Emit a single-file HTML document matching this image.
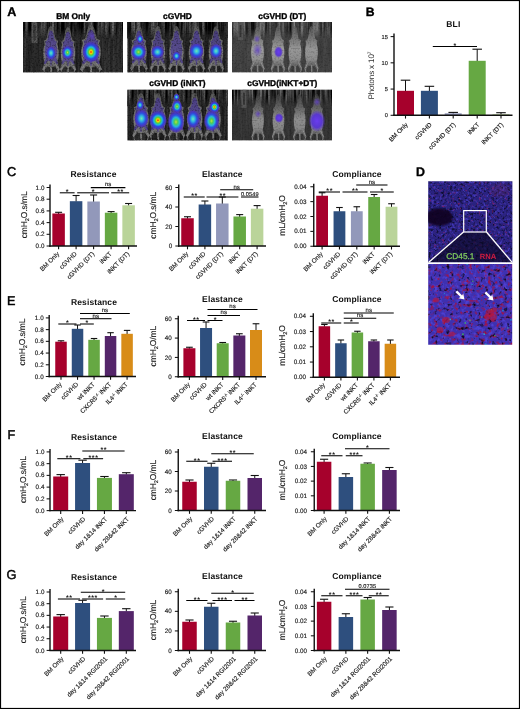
<!DOCTYPE html>
<html><head><meta charset="utf-8"><style>
html,body{margin:0;padding:0;background:#fff;}
text.s{stroke:#1a1a1a;stroke-width:0.15px;}
text.b{stroke:#000;stroke-width:0.35px;}
text.r{stroke:#000;stroke-width:0.45px;}
svg text{text-rendering:geometricPrecision;}
body{width:520px;height:709px;overflow:hidden;position:relative;-webkit-font-smoothing:antialiased;font-family:"Liberation Sans", sans-serif;}
</style></head><body>
<svg width="520" height="709" viewBox="0 0 520 709" style="position:absolute;left:0;top:0;will-change:transform;font-family:&quot;Liberation Sans&quot;, sans-serif">
<defs>
<filter id="blur1" x="-50%" y="-50%" width="200%" height="200%"><feGaussianBlur stdDeviation="1.2"/></filter>
<filter id="blur05" x="-50%" y="-50%" width="200%" height="200%"><feGaussianBlur stdDeviation="0.5"/></filter>
<filter id="blurM" x="-50%" y="-50%" width="200%" height="200%"><feGaussianBlur stdDeviation="0.7"/></filter>
<filter id="bgDark" x="0" y="0" width="100%" height="100%" color-interpolation-filters="sRGB"><feTurbulence type="fractalNoise" baseFrequency="0.45 0.025" numOctaves="2" seed="4"/><feColorMatrix type="matrix" values="0.55 0 0 0 -0.1  0.55 0 0 0 -0.1  0.55 0 0 0 -0.1  0 0 0 0 1"/></filter>
<filter id="bgDark2" x="0" y="0" width="100%" height="100%" color-interpolation-filters="sRGB"><feTurbulence type="fractalNoise" baseFrequency="0.45 0.025" numOctaves="2" seed="9"/><feColorMatrix type="matrix" values="0.55 0 0 0 -0.12  0.55 0 0 0 -0.12  0.55 0 0 0 -0.12  0 0 0 0 1"/></filter>
<filter id="bgGray" x="0" y="0" width="100%" height="100%" color-interpolation-filters="sRGB"><feTurbulence type="fractalNoise" baseFrequency="0.4 0.03" numOctaves="2" seed="5"/><feColorMatrix type="matrix" values="0.5 0 0 0 0.03  0.5 0 0 0 0.03  0.5 0 0 0 0.03  0 0 0 0 1"/></filter>
<filter id="bgGray2" x="0" y="0" width="100%" height="100%" color-interpolation-filters="sRGB"><feTurbulence type="fractalNoise" baseFrequency="0.4 0.03" numOctaves="2" seed="6"/><feColorMatrix type="matrix" values="0.5 0 0 0 -0.03  0.5 0 0 0 -0.03  0.5 0 0 0 -0.03  0 0 0 0 1"/></filter>
<filter id="topbgDark" x="0" y="0" width="100%" height="100%" color-interpolation-filters="sRGB"><feTurbulence type="fractalNoise" baseFrequency="0.35 0.02" numOctaves="2" seed="4"/><feColorMatrix type="matrix" values="0.8 0 0 0 -0.24  0.8 0 0 0 -0.24  0.8 0 0 0 -0.24  0 0 0 0 1"/></filter>
<filter id="topbgDark2" x="0" y="0" width="100%" height="100%" color-interpolation-filters="sRGB"><feTurbulence type="fractalNoise" baseFrequency="0.35 0.02" numOctaves="2" seed="9"/><feColorMatrix type="matrix" values="0.8 0 0 0 -0.24  0.8 0 0 0 -0.24  0.8 0 0 0 -0.24  0 0 0 0 1"/></filter>
<filter id="topbgGray" x="0" y="0" width="100%" height="100%" color-interpolation-filters="sRGB"><feTurbulence type="fractalNoise" baseFrequency="0.35 0.02" numOctaves="2" seed="5"/><feColorMatrix type="matrix" values="0.8 0 0 0 -0.13  0.8 0 0 0 -0.13  0.8 0 0 0 -0.13  0 0 0 0 1"/></filter>
<filter id="topbgGray2" x="0" y="0" width="100%" height="100%" color-interpolation-filters="sRGB"><feTurbulence type="fractalNoise" baseFrequency="0.35 0.02" numOctaves="2" seed="6"/><feColorMatrix type="matrix" values="1.0 0 0 0 -0.32  1.0 0 0 0 -0.32  1.0 0 0 0 -0.32  0 0 0 0 1"/></filter>
<linearGradient id="grayBody" x1="0" y1="0" x2="0" y2="1"><stop offset="0" stop-color="#5a5a5a"/><stop offset="0.25" stop-color="#808080"/><stop offset="0.5" stop-color="#acacac"/><stop offset="0.72" stop-color="#a0a0a0"/><stop offset="0.85" stop-color="#707070"/><stop offset="1" stop-color="#808080"/></linearGradient>
<linearGradient id="grayBody2" x1="0" y1="0" x2="0" y2="1"><stop offset="0" stop-color="#404040"/><stop offset="0.3" stop-color="#707070"/><stop offset="0.55" stop-color="#a4a4a4"/><stop offset="0.75" stop-color="#9a9a9a"/><stop offset="0.88" stop-color="#686868"/><stop offset="1" stop-color="#7a7a7a"/></linearGradient>
<linearGradient id="furBody" x1="0" y1="0" x2="0" y2="1"><stop offset="0" stop-color="#5a5a5a"/><stop offset="0.3" stop-color="#7a7a7a"/><stop offset="0.6" stop-color="#8e8e8e"/><stop offset="0.85" stop-color="#7a7a7a"/><stop offset="1" stop-color="#909090"/></linearGradient>
<linearGradient id="fadeDown" x1="0" y1="0" x2="0" y2="1"><stop offset="0" stop-color="currentColor" stop-opacity="0"/><stop offset="1" stop-color="currentColor" stop-opacity="0.9"/></linearGradient>
<filter id="grain" x="0" y="0" width="100%" height="100%" color-interpolation-filters="sRGB"><feTurbulence type="fractalNoise" baseFrequency="0.6" numOctaves="1" seed="2"/><feColorMatrix type="matrix" values="0 0 0 0 0  0 0 0 0 0  0 0 0 0 0  0 3 0 0 -1.45"/></filter>
<radialGradient id="hotR"><stop offset="0" stop-color="#f01800"/><stop offset="0.14" stop-color="#ffd000"/><stop offset="0.3" stop-color="#50d040"/><stop offset="0.46" stop-color="#20b8e0"/><stop offset="0.64" stop-color="#2848e0"/><stop offset="0.84" stop-color="#4a30c8" stop-opacity="0.75"/><stop offset="1" stop-color="#4a30c8" stop-opacity="0"/></radialGradient>
<radialGradient id="hotG"><stop offset="0" stop-color="#c0e040"/><stop offset="0.2" stop-color="#50d050"/><stop offset="0.42" stop-color="#28b8d8"/><stop offset="0.62" stop-color="#2c50e0"/><stop offset="0.84" stop-color="#4a30c8" stop-opacity="0.75"/><stop offset="1" stop-color="#4a30c8" stop-opacity="0"/></radialGradient>
<radialGradient id="hotC"><stop offset="0" stop-color="#70e8b0"/><stop offset="0.28" stop-color="#30b8e0"/><stop offset="0.58" stop-color="#2c50e0"/><stop offset="0.84" stop-color="#4a30c8" stop-opacity="0.75"/><stop offset="1" stop-color="#4a30c8" stop-opacity="0"/></radialGradient>
<radialGradient id="hotP"><stop offset="0" stop-color="#6a3cf0"/><stop offset="0.6" stop-color="#5530d8" stop-opacity="0.9"/><stop offset="1" stop-color="#5530d8" stop-opacity="0"/></radialGradient>
<radialGradient id="hotPf"><stop offset="0" stop-color="#6040c8" stop-opacity="0.8"/><stop offset="1" stop-color="#6040c8" stop-opacity="0"/></radialGradient>
</defs>
<rect x="0" y="0" width="520" height="709" fill="#fff" />
<text x="7.2" y="16.2" font-size="12.6" text-anchor="start" font-weight="bold" fill="#000" class="b">A</text>
<text x="73.2" y="18.5" font-size="8.4" text-anchor="middle" font-weight="bold" fill="#000" class="b">BM Only</text>
<text x="177.5" y="18.5" font-size="8.4" text-anchor="middle" font-weight="bold" fill="#000" class="b">cGVHD</text>
<text x="282.3" y="18.5" font-size="8.4" text-anchor="middle" font-weight="bold" fill="#000" class="b">cGVHD (DT)</text>
<text x="177.5" y="86" font-size="8.4" text-anchor="middle" font-weight="bold" fill="#000" class="b">cGVHD (iNKT)</text>
<text x="282.3" y="86" font-size="8.4" text-anchor="middle" font-weight="bold" fill="#000" class="b">cGVHD(iNKT+DT)</text>
<clipPath id="clipA1"><rect x="23" y="22" width="100" height="50.6"/></clipPath>
<g clip-path="url(#clipA1)">
<rect x="23" y="22" width="100" height="50.6" fill="#2a2a2a" />
<rect x="23" y="22" width="100" height="50.6" filter="url(#bgDark)" opacity="0.35"/>
<linearGradient id="fd1" x1="0" y1="0" x2="0" y2="1"><stop offset="0" stop-color="#2a2a2a" stop-opacity="0"/><stop offset="1" stop-color="#2a2a2a" stop-opacity="1"/></linearGradient>
<rect x="23" y="22" width="100" height="16" filter="url(#topbgDark)"/>
<rect x="23" y="28.5" width="100" height="10" fill="url(#fd1)"/>
<g filter="url(#blur05)"><rect x="31.5" y="22.0" width="6.0" height="21.0" fill="#555"/><rect x="33.3" y="25.0" width="2.4" height="15.0" fill="#383838"/></g>
<g filter="url(#blurM)"><path d="M0,0.02 C0.12,0.02 0.2,0.1 0.22,0.2 L0.3,0.3 L0.46,0.33 L0.4,0.4 C0.52,0.5 0.52,0.66 0.4,0.78 L0.56,0.93 L0.44,0.96 L0.24,0.86 L0.06,0.88 L0.04,1.0 L-0.04,1.0 L-0.06,0.88 L-0.24,0.86 L-0.44,0.96 L-0.56,0.93 L-0.4,0.78 C-0.52,0.66 -0.52,0.5 -0.4,0.4 L-0.46,0.33 L-0.3,0.3 L-0.22,0.2 C-0.2,0.1 -0.12,0.02 0,0.02 Z" transform="translate(51.0,25.0) scale(15.75,48.00)" fill="url(#furBody)" fill-opacity="0.8"/></g>
<g filter="url(#blurM)"><path d="M0,0.02 C0.12,0.02 0.2,0.1 0.22,0.2 L0.3,0.3 L0.46,0.33 L0.4,0.4 C0.52,0.5 0.52,0.66 0.4,0.78 L0.56,0.93 L0.44,0.96 L0.24,0.86 L0.06,0.88 L0.04,1.0 L-0.04,1.0 L-0.06,0.88 L-0.24,0.86 L-0.44,0.96 L-0.56,0.93 L-0.4,0.78 C-0.52,0.66 -0.52,0.5 -0.4,0.4 L-0.46,0.33 L-0.3,0.3 L-0.22,0.2 C-0.2,0.1 -0.12,0.02 0,0.02 Z" transform="translate(51.0,29.8) scale(12.75,36.00)" fill="#3f2c9c" fill-opacity="0.58"/></g>
<g filter="url(#blurM)"><path d="M0,0.02 C0.12,0.02 0.2,0.1 0.22,0.2 L0.3,0.3 L0.46,0.33 L0.4,0.4 C0.52,0.5 0.52,0.66 0.4,0.78 L0.56,0.93 L0.44,0.96 L0.24,0.86 L0.06,0.88 L0.04,1.0 L-0.04,1.0 L-0.06,0.88 L-0.24,0.86 L-0.44,0.96 L-0.56,0.93 L-0.4,0.78 C-0.52,0.66 -0.52,0.5 -0.4,0.4 L-0.46,0.33 L-0.3,0.3 L-0.22,0.2 C-0.2,0.1 -0.12,0.02 0,0.02 Z" transform="translate(68.0,26.0) scale(14.70,47.00)" fill="url(#furBody)" fill-opacity="0.8"/></g>
<g filter="url(#blurM)"><path d="M0,0.02 C0.12,0.02 0.2,0.1 0.22,0.2 L0.3,0.3 L0.46,0.33 L0.4,0.4 C0.52,0.5 0.52,0.66 0.4,0.78 L0.56,0.93 L0.44,0.96 L0.24,0.86 L0.06,0.88 L0.04,1.0 L-0.04,1.0 L-0.06,0.88 L-0.24,0.86 L-0.44,0.96 L-0.56,0.93 L-0.4,0.78 C-0.52,0.66 -0.52,0.5 -0.4,0.4 L-0.46,0.33 L-0.3,0.3 L-0.22,0.2 C-0.2,0.1 -0.12,0.02 0,0.02 Z" transform="translate(68.0,30.7) scale(11.90,35.25)" fill="#3f2c9c" fill-opacity="0.58"/></g>
<g filter="url(#blurM)"><path d="M0,0.02 C0.12,0.02 0.2,0.1 0.22,0.2 L0.3,0.3 L0.46,0.33 L0.4,0.4 C0.52,0.5 0.52,0.66 0.4,0.78 L0.56,0.93 L0.44,0.96 L0.24,0.86 L0.06,0.88 L0.04,1.0 L-0.04,1.0 L-0.06,0.88 L-0.24,0.86 L-0.44,0.96 L-0.56,0.93 L-0.4,0.78 C-0.52,0.66 -0.52,0.5 -0.4,0.4 L-0.46,0.33 L-0.3,0.3 L-0.22,0.2 C-0.2,0.1 -0.12,0.02 0,0.02 Z" transform="translate(91.0,24.0) scale(19.95,49.00)" fill="url(#furBody)" fill-opacity="0.8"/></g>
<g filter="url(#blurM)"><path d="M0,0.02 C0.12,0.02 0.2,0.1 0.22,0.2 L0.3,0.3 L0.46,0.33 L0.4,0.4 C0.52,0.5 0.52,0.66 0.4,0.78 L0.56,0.93 L0.44,0.96 L0.24,0.86 L0.06,0.88 L0.04,1.0 L-0.04,1.0 L-0.06,0.88 L-0.24,0.86 L-0.44,0.96 L-0.56,0.93 L-0.4,0.78 C-0.52,0.66 -0.52,0.5 -0.4,0.4 L-0.46,0.33 L-0.3,0.3 L-0.22,0.2 C-0.2,0.1 -0.12,0.02 0,0.02 Z" transform="translate(91.0,28.9) scale(16.15,36.75)" fill="#3f2c9c" fill-opacity="0.61"/></g>
<path d="M46.8,63.4 L43.5,69.6 L44.7,72.6" fill="none" stroke="#8a8a8a" stroke-width="1" stroke-opacity="0.75"/>
<path d="M55.2,63.4 L58.5,69.6 L57.3,72.6" fill="none" stroke="#8a8a8a" stroke-width="1" stroke-opacity="0.75"/>
<line x1="51.0" y1="65.8" x2="51.6" y2="72.6" stroke="#8a8a8a" stroke-width="0.9" stroke-opacity="0.7"/>
<path d="M64.1,63.6 L61.0,69.7 L62.1,72.6" fill="none" stroke="#8a8a8a" stroke-width="1" stroke-opacity="0.75"/>
<path d="M71.9,63.6 L75.0,69.7 L73.9,72.6" fill="none" stroke="#8a8a8a" stroke-width="1" stroke-opacity="0.75"/>
<line x1="68.0" y1="65.9" x2="68.6" y2="72.6" stroke="#8a8a8a" stroke-width="0.9" stroke-opacity="0.7"/>
<path d="M85.7,63.2 L81.5,69.6 L83.0,72.6" fill="none" stroke="#8a8a8a" stroke-width="1" stroke-opacity="0.75"/>
<path d="M96.3,63.2 L100.5,69.6 L99.0,72.6" fill="none" stroke="#8a8a8a" stroke-width="1" stroke-opacity="0.75"/>
<line x1="91.0" y1="65.7" x2="91.6" y2="72.6" stroke="#8a8a8a" stroke-width="0.9" stroke-opacity="0.7"/>
<rect x="23" y="22" width="100" height="50.6" filter="url(#grain)" opacity="0.45"/>
<ellipse cx="51.0" cy="53.0" rx="4.9" ry="6.8" fill="url(#hotC)"/>
<ellipse cx="67.5" cy="52.5" rx="5.5" ry="6.8" fill="url(#hotG)"/>
<ellipse cx="91.0" cy="52.0" rx="8.8" ry="10.7" fill="url(#hotR)"/>
<ellipse cx="92.0" cy="36.0" rx="3.0" ry="4.0" fill="url(#hotPf)"/>
</g>
<clipPath id="clipA2"><rect x="127.3" y="22" width="100.5" height="50.6"/></clipPath>
<g clip-path="url(#clipA2)">
<rect x="127.3" y="22" width="100.5" height="50.6" fill="#262626" />
<rect x="127.3" y="22" width="100.5" height="50.6" filter="url(#bgDark2)" opacity="0.35"/>
<linearGradient id="fd2" x1="0" y1="0" x2="0" y2="1"><stop offset="0" stop-color="#262626" stop-opacity="0"/><stop offset="1" stop-color="#262626" stop-opacity="1"/></linearGradient>
<rect x="127.3" y="22" width="100.5" height="16" filter="url(#topbgDark2)"/>
<rect x="127.3" y="28.5" width="100.5" height="10" fill="url(#fd2)"/>
<g filter="url(#blurM)"><path d="M0,0.02 C0.12,0.02 0.2,0.1 0.22,0.2 L0.3,0.3 L0.46,0.33 L0.4,0.4 C0.52,0.5 0.52,0.66 0.4,0.78 L0.56,0.93 L0.44,0.96 L0.24,0.86 L0.06,0.88 L0.04,1.0 L-0.04,1.0 L-0.06,0.88 L-0.24,0.86 L-0.44,0.96 L-0.56,0.93 L-0.4,0.78 C-0.52,0.66 -0.52,0.5 -0.4,0.4 L-0.46,0.33 L-0.3,0.3 L-0.22,0.2 C-0.2,0.1 -0.12,0.02 0,0.02 Z" transform="translate(139.0,25.0) scale(15.75,47.00)" fill="url(#furBody)" fill-opacity="0.8"/></g>
<g filter="url(#blurM)"><path d="M0,0.02 C0.12,0.02 0.2,0.1 0.22,0.2 L0.3,0.3 L0.46,0.33 L0.4,0.4 C0.52,0.5 0.52,0.66 0.4,0.78 L0.56,0.93 L0.44,0.96 L0.24,0.86 L0.06,0.88 L0.04,1.0 L-0.04,1.0 L-0.06,0.88 L-0.24,0.86 L-0.44,0.96 L-0.56,0.93 L-0.4,0.78 C-0.52,0.66 -0.52,0.5 -0.4,0.4 L-0.46,0.33 L-0.3,0.3 L-0.22,0.2 C-0.2,0.1 -0.12,0.02 0,0.02 Z" transform="translate(139.0,29.7) scale(12.75,35.25)" fill="#3f2c9c" fill-opacity="0.61"/></g>
<g filter="url(#blurM)"><path d="M0,0.02 C0.12,0.02 0.2,0.1 0.22,0.2 L0.3,0.3 L0.46,0.33 L0.4,0.4 C0.52,0.5 0.52,0.66 0.4,0.78 L0.56,0.93 L0.44,0.96 L0.24,0.86 L0.06,0.88 L0.04,1.0 L-0.04,1.0 L-0.06,0.88 L-0.24,0.86 L-0.44,0.96 L-0.56,0.93 L-0.4,0.78 C-0.52,0.66 -0.52,0.5 -0.4,0.4 L-0.46,0.33 L-0.3,0.3 L-0.22,0.2 C-0.2,0.1 -0.12,0.02 0,0.02 Z" transform="translate(158.0,25.0) scale(14.70,47.00)" fill="url(#furBody)" fill-opacity="0.8"/></g>
<g filter="url(#blurM)"><path d="M0,0.02 C0.12,0.02 0.2,0.1 0.22,0.2 L0.3,0.3 L0.46,0.33 L0.4,0.4 C0.52,0.5 0.52,0.66 0.4,0.78 L0.56,0.93 L0.44,0.96 L0.24,0.86 L0.06,0.88 L0.04,1.0 L-0.04,1.0 L-0.06,0.88 L-0.24,0.86 L-0.44,0.96 L-0.56,0.93 L-0.4,0.78 C-0.52,0.66 -0.52,0.5 -0.4,0.4 L-0.46,0.33 L-0.3,0.3 L-0.22,0.2 C-0.2,0.1 -0.12,0.02 0,0.02 Z" transform="translate(158.0,29.7) scale(11.90,35.25)" fill="#38248c" fill-opacity="0.58"/></g>
<g filter="url(#blurM)"><path d="M0,0.02 C0.12,0.02 0.2,0.1 0.22,0.2 L0.3,0.3 L0.46,0.33 L0.4,0.4 C0.52,0.5 0.52,0.66 0.4,0.78 L0.56,0.93 L0.44,0.96 L0.24,0.86 L0.06,0.88 L0.04,1.0 L-0.04,1.0 L-0.06,0.88 L-0.24,0.86 L-0.44,0.96 L-0.56,0.93 L-0.4,0.78 C-0.52,0.66 -0.52,0.5 -0.4,0.4 L-0.46,0.33 L-0.3,0.3 L-0.22,0.2 C-0.2,0.1 -0.12,0.02 0,0.02 Z" transform="translate(176.5,25.0) scale(14.70,47.00)" fill="url(#furBody)" fill-opacity="0.8"/></g>
<g filter="url(#blurM)"><path d="M0,0.02 C0.12,0.02 0.2,0.1 0.22,0.2 L0.3,0.3 L0.46,0.33 L0.4,0.4 C0.52,0.5 0.52,0.66 0.4,0.78 L0.56,0.93 L0.44,0.96 L0.24,0.86 L0.06,0.88 L0.04,1.0 L-0.04,1.0 L-0.06,0.88 L-0.24,0.86 L-0.44,0.96 L-0.56,0.93 L-0.4,0.78 C-0.52,0.66 -0.52,0.5 -0.4,0.4 L-0.46,0.33 L-0.3,0.3 L-0.22,0.2 C-0.2,0.1 -0.12,0.02 0,0.02 Z" transform="translate(176.5,29.7) scale(11.90,35.25)" fill="#3f2c9c" fill-opacity="0.58"/></g>
<g filter="url(#blurM)"><path d="M0,0.02 C0.12,0.02 0.2,0.1 0.22,0.2 L0.3,0.3 L0.46,0.33 L0.4,0.4 C0.52,0.5 0.52,0.66 0.4,0.78 L0.56,0.93 L0.44,0.96 L0.24,0.86 L0.06,0.88 L0.04,1.0 L-0.04,1.0 L-0.06,0.88 L-0.24,0.86 L-0.44,0.96 L-0.56,0.93 L-0.4,0.78 C-0.52,0.66 -0.52,0.5 -0.4,0.4 L-0.46,0.33 L-0.3,0.3 L-0.22,0.2 C-0.2,0.1 -0.12,0.02 0,0.02 Z" transform="translate(196.5,25.0) scale(15.75,47.00)" fill="url(#furBody)" fill-opacity="0.8"/></g>
<g filter="url(#blurM)"><path d="M0,0.02 C0.12,0.02 0.2,0.1 0.22,0.2 L0.3,0.3 L0.46,0.33 L0.4,0.4 C0.52,0.5 0.52,0.66 0.4,0.78 L0.56,0.93 L0.44,0.96 L0.24,0.86 L0.06,0.88 L0.04,1.0 L-0.04,1.0 L-0.06,0.88 L-0.24,0.86 L-0.44,0.96 L-0.56,0.93 L-0.4,0.78 C-0.52,0.66 -0.52,0.5 -0.4,0.4 L-0.46,0.33 L-0.3,0.3 L-0.22,0.2 C-0.2,0.1 -0.12,0.02 0,0.02 Z" transform="translate(196.5,29.7) scale(12.75,35.25)" fill="#3f2c9c" fill-opacity="0.61"/></g>
<g filter="url(#blurM)"><path d="M0,0.02 C0.12,0.02 0.2,0.1 0.22,0.2 L0.3,0.3 L0.46,0.33 L0.4,0.4 C0.52,0.5 0.52,0.66 0.4,0.78 L0.56,0.93 L0.44,0.96 L0.24,0.86 L0.06,0.88 L0.04,1.0 L-0.04,1.0 L-0.06,0.88 L-0.24,0.86 L-0.44,0.96 L-0.56,0.93 L-0.4,0.78 C-0.52,0.66 -0.52,0.5 -0.4,0.4 L-0.46,0.33 L-0.3,0.3 L-0.22,0.2 C-0.2,0.1 -0.12,0.02 0,0.02 Z" transform="translate(216.0,25.0) scale(14.70,47.00)" fill="url(#furBody)" fill-opacity="0.8"/></g>
<g filter="url(#blurM)"><path d="M0,0.02 C0.12,0.02 0.2,0.1 0.22,0.2 L0.3,0.3 L0.46,0.33 L0.4,0.4 C0.52,0.5 0.52,0.66 0.4,0.78 L0.56,0.93 L0.44,0.96 L0.24,0.86 L0.06,0.88 L0.04,1.0 L-0.04,1.0 L-0.06,0.88 L-0.24,0.86 L-0.44,0.96 L-0.56,0.93 L-0.4,0.78 C-0.52,0.66 -0.52,0.5 -0.4,0.4 L-0.46,0.33 L-0.3,0.3 L-0.22,0.2 C-0.2,0.1 -0.12,0.02 0,0.02 Z" transform="translate(216.0,29.7) scale(11.90,35.25)" fill="#38248c" fill-opacity="0.58"/></g>
<path d="M134.8,62.6 L131.5,68.7 L132.7,72.6" fill="none" stroke="#8a8a8a" stroke-width="1" stroke-opacity="0.75"/>
<path d="M143.2,62.6 L146.5,68.7 L145.3,72.6" fill="none" stroke="#8a8a8a" stroke-width="1" stroke-opacity="0.75"/>
<line x1="139.0" y1="64.9" x2="139.6" y2="72.6" stroke="#8a8a8a" stroke-width="0.9" stroke-opacity="0.7"/>
<path d="M154.1,62.6 L151.0,68.7 L152.1,72.6" fill="none" stroke="#8a8a8a" stroke-width="1" stroke-opacity="0.75"/>
<path d="M161.9,62.6 L165.0,68.7 L163.9,72.6" fill="none" stroke="#8a8a8a" stroke-width="1" stroke-opacity="0.75"/>
<line x1="158.0" y1="64.9" x2="158.6" y2="72.6" stroke="#8a8a8a" stroke-width="0.9" stroke-opacity="0.7"/>
<path d="M172.6,62.6 L169.5,68.7 L170.6,72.6" fill="none" stroke="#8a8a8a" stroke-width="1" stroke-opacity="0.75"/>
<path d="M180.4,62.6 L183.5,68.7 L182.4,72.6" fill="none" stroke="#8a8a8a" stroke-width="1" stroke-opacity="0.75"/>
<line x1="176.5" y1="64.9" x2="177.1" y2="72.6" stroke="#8a8a8a" stroke-width="0.9" stroke-opacity="0.7"/>
<path d="M192.3,62.6 L189.0,68.7 L190.2,72.6" fill="none" stroke="#8a8a8a" stroke-width="1" stroke-opacity="0.75"/>
<path d="M200.7,62.6 L204.0,68.7 L202.8,72.6" fill="none" stroke="#8a8a8a" stroke-width="1" stroke-opacity="0.75"/>
<line x1="196.5" y1="64.9" x2="197.1" y2="72.6" stroke="#8a8a8a" stroke-width="0.9" stroke-opacity="0.7"/>
<path d="M212.1,62.6 L209.0,68.7 L210.1,72.6" fill="none" stroke="#8a8a8a" stroke-width="1" stroke-opacity="0.75"/>
<path d="M219.9,62.6 L223.0,68.7 L221.9,72.6" fill="none" stroke="#8a8a8a" stroke-width="1" stroke-opacity="0.75"/>
<line x1="216.0" y1="64.9" x2="216.6" y2="72.6" stroke="#8a8a8a" stroke-width="0.9" stroke-opacity="0.7"/>
<rect x="127.3" y="22" width="100.5" height="50.6" filter="url(#grain)" opacity="0.45"/>
<ellipse cx="138.5" cy="52.0" rx="7.8" ry="7.8" fill="url(#hotG)"/>
<ellipse cx="140.0" cy="39.0" rx="3.2" ry="4.2" fill="url(#hotC)"/>
<ellipse cx="157.5" cy="52.0" rx="6.5" ry="6.5" fill="url(#hotC)"/>
<ellipse cx="176.5" cy="56.0" rx="3.9" ry="4.5" fill="url(#hotC)"/>
<ellipse cx="196.5" cy="51.0" rx="7.2" ry="7.8" fill="url(#hotC)"/>
<ellipse cx="216.0" cy="51.0" rx="5.9" ry="7.2" fill="url(#hotC)"/>
</g>
<clipPath id="clipA3"><rect x="232" y="22" width="100" height="50.6"/></clipPath>
<g clip-path="url(#clipA3)">
<rect x="232" y="22" width="100" height="50.6" fill="#424242" />
<rect x="232" y="22" width="100" height="50.6" filter="url(#bgGray)" opacity="0.2"/>
<linearGradient id="fd3" x1="0" y1="0" x2="0" y2="1"><stop offset="0" stop-color="#424242" stop-opacity="0"/><stop offset="1" stop-color="#424242" stop-opacity="1"/></linearGradient>
<rect x="232" y="22" width="100" height="16" filter="url(#topbgGray)"/>
<rect x="232" y="28.5" width="100" height="10" fill="url(#fd3)"/>
<g filter="url(#blur05)"><rect x="238.0" y="22.0" width="5.0" height="18.0" fill="#555"/><rect x="239.5" y="25.0" width="2.0" height="12.0" fill="#383838"/></g>
<g filter="url(#blurM)"><path d="M0,0.02 C0.12,0.02 0.2,0.1 0.22,0.2 L0.3,0.3 L0.46,0.33 L0.4,0.4 C0.52,0.5 0.52,0.66 0.4,0.78 L0.56,0.93 L0.44,0.96 L0.24,0.86 L0.06,0.88 L0.04,1.0 L-0.04,1.0 L-0.06,0.88 L-0.24,0.86 L-0.44,0.96 L-0.56,0.93 L-0.4,0.78 C-0.52,0.66 -0.52,0.5 -0.4,0.4 L-0.46,0.33 L-0.3,0.3 L-0.22,0.2 C-0.2,0.1 -0.12,0.02 0,0.02 Z" transform="translate(257.5,25.0) scale(13.00,47.00)" fill="url(#grayBody)" fill-opacity="0.85"/></g>
<g filter="url(#blurM)"><path d="M0,0.02 C0.12,0.02 0.2,0.1 0.22,0.2 L0.3,0.3 L0.46,0.33 L0.4,0.4 C0.52,0.5 0.52,0.66 0.4,0.78 L0.56,0.93 L0.44,0.96 L0.24,0.86 L0.06,0.88 L0.04,1.0 L-0.04,1.0 L-0.06,0.88 L-0.24,0.86 L-0.44,0.96 L-0.56,0.93 L-0.4,0.78 C-0.52,0.66 -0.52,0.5 -0.4,0.4 L-0.46,0.33 L-0.3,0.3 L-0.22,0.2 C-0.2,0.1 -0.12,0.02 0,0.02 Z" transform="translate(278.0,25.0) scale(13.00,47.00)" fill="url(#grayBody)" fill-opacity="0.85"/></g>
<g filter="url(#blurM)"><path d="M0,0.02 C0.12,0.02 0.2,0.1 0.22,0.2 L0.3,0.3 L0.46,0.33 L0.4,0.4 C0.52,0.5 0.52,0.66 0.4,0.78 L0.56,0.93 L0.44,0.96 L0.24,0.86 L0.06,0.88 L0.04,1.0 L-0.04,1.0 L-0.06,0.88 L-0.24,0.86 L-0.44,0.96 L-0.56,0.93 L-0.4,0.78 C-0.52,0.66 -0.52,0.5 -0.4,0.4 L-0.46,0.33 L-0.3,0.3 L-0.22,0.2 C-0.2,0.1 -0.12,0.02 0,0.02 Z" transform="translate(295.0,25.0) scale(13.00,47.00)" fill="url(#grayBody)" fill-opacity="0.80"/></g>
<g filter="url(#blurM)"><path d="M0,0.02 C0.12,0.02 0.2,0.1 0.22,0.2 L0.3,0.3 L0.46,0.33 L0.4,0.4 C0.52,0.5 0.52,0.66 0.4,0.78 L0.56,0.93 L0.44,0.96 L0.24,0.86 L0.06,0.88 L0.04,1.0 L-0.04,1.0 L-0.06,0.88 L-0.24,0.86 L-0.44,0.96 L-0.56,0.93 L-0.4,0.78 C-0.52,0.66 -0.52,0.5 -0.4,0.4 L-0.46,0.33 L-0.3,0.3 L-0.22,0.2 C-0.2,0.1 -0.12,0.02 0,0.02 Z" transform="translate(311.5,25.0) scale(13.00,47.00)" fill="url(#grayBody)" fill-opacity="0.80"/></g>
<path d="M253.9,62.6 L251.0,68.7 L252.0,72.6" fill="none" stroke="#9a9a9a" stroke-width="1" stroke-opacity="0.75"/>
<path d="M261.1,62.6 L264.0,68.7 L263.0,72.6" fill="none" stroke="#9a9a9a" stroke-width="1" stroke-opacity="0.75"/>
<line x1="257.5" y1="64.9" x2="258.1" y2="72.6" stroke="#9a9a9a" stroke-width="0.9" stroke-opacity="0.7"/>
<path d="M274.4,62.6 L271.5,68.7 L272.5,72.6" fill="none" stroke="#9a9a9a" stroke-width="1" stroke-opacity="0.75"/>
<path d="M281.6,62.6 L284.5,68.7 L283.5,72.6" fill="none" stroke="#9a9a9a" stroke-width="1" stroke-opacity="0.75"/>
<line x1="278.0" y1="64.9" x2="278.6" y2="72.6" stroke="#9a9a9a" stroke-width="0.9" stroke-opacity="0.7"/>
<path d="M291.4,62.6 L288.5,68.7 L289.5,72.6" fill="none" stroke="#9a9a9a" stroke-width="1" stroke-opacity="0.75"/>
<path d="M298.6,62.6 L301.5,68.7 L300.5,72.6" fill="none" stroke="#9a9a9a" stroke-width="1" stroke-opacity="0.75"/>
<line x1="295.0" y1="64.9" x2="295.6" y2="72.6" stroke="#9a9a9a" stroke-width="0.9" stroke-opacity="0.7"/>
<path d="M307.9,62.6 L305.0,68.7 L306.0,72.6" fill="none" stroke="#9a9a9a" stroke-width="1" stroke-opacity="0.75"/>
<path d="M315.1,62.6 L318.0,68.7 L317.0,72.6" fill="none" stroke="#9a9a9a" stroke-width="1" stroke-opacity="0.75"/>
<line x1="311.5" y1="64.9" x2="312.1" y2="72.6" stroke="#9a9a9a" stroke-width="0.9" stroke-opacity="0.7"/>
<rect x="232" y="22" width="100" height="50.6" filter="url(#grain)" opacity="0.22"/>
<ellipse cx="257.0" cy="39.0" rx="3.5" ry="4.0" fill="url(#hotPf)"/>
<ellipse cx="257.5" cy="50.0" rx="5.0" ry="7.0" fill="url(#hotPf)"/>
<ellipse cx="278.5" cy="52.0" rx="4.5" ry="6.0" fill="url(#hotP)"/>
</g>
<clipPath id="clipA4"><rect x="127.3" y="89.8" width="100.5" height="50.8"/></clipPath>
<g clip-path="url(#clipA4)">
<rect x="127.3" y="89.8" width="100.5" height="50.8" fill="#262626" />
<rect x="127.3" y="89.8" width="100.5" height="50.8" filter="url(#bgDark2)" opacity="0.35"/>
<linearGradient id="fd4" x1="0" y1="0" x2="0" y2="1"><stop offset="0" stop-color="#262626" stop-opacity="0"/><stop offset="1" stop-color="#262626" stop-opacity="1"/></linearGradient>
<rect x="127.3" y="89.8" width="100.5" height="16" filter="url(#topbgDark2)"/>
<rect x="127.3" y="96.3" width="100.5" height="10" fill="url(#fd4)"/>
<g filter="url(#blurM)"><path d="M0,0.02 C0.12,0.02 0.2,0.1 0.22,0.2 L0.3,0.3 L0.46,0.33 L0.4,0.4 C0.52,0.5 0.52,0.66 0.4,0.78 L0.56,0.93 L0.44,0.96 L0.24,0.86 L0.06,0.88 L0.04,1.0 L-0.04,1.0 L-0.06,0.88 L-0.24,0.86 L-0.44,0.96 L-0.56,0.93 L-0.4,0.78 C-0.52,0.66 -0.52,0.5 -0.4,0.4 L-0.46,0.33 L-0.3,0.3 L-0.22,0.2 C-0.2,0.1 -0.12,0.02 0,0.02 Z" transform="translate(141.0,92.0) scale(15.75,47.00)" fill="url(#furBody)" fill-opacity="0.8"/></g>
<g filter="url(#blurM)"><path d="M0,0.02 C0.12,0.02 0.2,0.1 0.22,0.2 L0.3,0.3 L0.46,0.33 L0.4,0.4 C0.52,0.5 0.52,0.66 0.4,0.78 L0.56,0.93 L0.44,0.96 L0.24,0.86 L0.06,0.88 L0.04,1.0 L-0.04,1.0 L-0.06,0.88 L-0.24,0.86 L-0.44,0.96 L-0.56,0.93 L-0.4,0.78 C-0.52,0.66 -0.52,0.5 -0.4,0.4 L-0.46,0.33 L-0.3,0.3 L-0.22,0.2 C-0.2,0.1 -0.12,0.02 0,0.02 Z" transform="translate(141.0,96.7) scale(12.75,35.25)" fill="#3f2c9c" fill-opacity="0.61"/></g>
<g filter="url(#blurM)"><path d="M0,0.02 C0.12,0.02 0.2,0.1 0.22,0.2 L0.3,0.3 L0.46,0.33 L0.4,0.4 C0.52,0.5 0.52,0.66 0.4,0.78 L0.56,0.93 L0.44,0.96 L0.24,0.86 L0.06,0.88 L0.04,1.0 L-0.04,1.0 L-0.06,0.88 L-0.24,0.86 L-0.44,0.96 L-0.56,0.93 L-0.4,0.78 C-0.52,0.66 -0.52,0.5 -0.4,0.4 L-0.46,0.33 L-0.3,0.3 L-0.22,0.2 C-0.2,0.1 -0.12,0.02 0,0.02 Z" transform="translate(158.0,92.0) scale(15.75,47.00)" fill="url(#furBody)" fill-opacity="0.8"/></g>
<g filter="url(#blurM)"><path d="M0,0.02 C0.12,0.02 0.2,0.1 0.22,0.2 L0.3,0.3 L0.46,0.33 L0.4,0.4 C0.52,0.5 0.52,0.66 0.4,0.78 L0.56,0.93 L0.44,0.96 L0.24,0.86 L0.06,0.88 L0.04,1.0 L-0.04,1.0 L-0.06,0.88 L-0.24,0.86 L-0.44,0.96 L-0.56,0.93 L-0.4,0.78 C-0.52,0.66 -0.52,0.5 -0.4,0.4 L-0.46,0.33 L-0.3,0.3 L-0.22,0.2 C-0.2,0.1 -0.12,0.02 0,0.02 Z" transform="translate(158.0,96.7) scale(12.75,35.25)" fill="#3f2c9c" fill-opacity="0.61"/></g>
<g filter="url(#blurM)"><path d="M0,0.02 C0.12,0.02 0.2,0.1 0.22,0.2 L0.3,0.3 L0.46,0.33 L0.4,0.4 C0.52,0.5 0.52,0.66 0.4,0.78 L0.56,0.93 L0.44,0.96 L0.24,0.86 L0.06,0.88 L0.04,1.0 L-0.04,1.0 L-0.06,0.88 L-0.24,0.86 L-0.44,0.96 L-0.56,0.93 L-0.4,0.78 C-0.52,0.66 -0.52,0.5 -0.4,0.4 L-0.46,0.33 L-0.3,0.3 L-0.22,0.2 C-0.2,0.1 -0.12,0.02 0,0.02 Z" transform="translate(176.5,92.0) scale(15.75,47.00)" fill="url(#furBody)" fill-opacity="0.8"/></g>
<g filter="url(#blurM)"><path d="M0,0.02 C0.12,0.02 0.2,0.1 0.22,0.2 L0.3,0.3 L0.46,0.33 L0.4,0.4 C0.52,0.5 0.52,0.66 0.4,0.78 L0.56,0.93 L0.44,0.96 L0.24,0.86 L0.06,0.88 L0.04,1.0 L-0.04,1.0 L-0.06,0.88 L-0.24,0.86 L-0.44,0.96 L-0.56,0.93 L-0.4,0.78 C-0.52,0.66 -0.52,0.5 -0.4,0.4 L-0.46,0.33 L-0.3,0.3 L-0.22,0.2 C-0.2,0.1 -0.12,0.02 0,0.02 Z" transform="translate(176.5,96.7) scale(12.75,35.25)" fill="#3f2c9c" fill-opacity="0.61"/></g>
<g filter="url(#blurM)"><path d="M0,0.02 C0.12,0.02 0.2,0.1 0.22,0.2 L0.3,0.3 L0.46,0.33 L0.4,0.4 C0.52,0.5 0.52,0.66 0.4,0.78 L0.56,0.93 L0.44,0.96 L0.24,0.86 L0.06,0.88 L0.04,1.0 L-0.04,1.0 L-0.06,0.88 L-0.24,0.86 L-0.44,0.96 L-0.56,0.93 L-0.4,0.78 C-0.52,0.66 -0.52,0.5 -0.4,0.4 L-0.46,0.33 L-0.3,0.3 L-0.22,0.2 C-0.2,0.1 -0.12,0.02 0,0.02 Z" transform="translate(194.7,92.0) scale(15.75,47.00)" fill="url(#furBody)" fill-opacity="0.8"/></g>
<g filter="url(#blurM)"><path d="M0,0.02 C0.12,0.02 0.2,0.1 0.22,0.2 L0.3,0.3 L0.46,0.33 L0.4,0.4 C0.52,0.5 0.52,0.66 0.4,0.78 L0.56,0.93 L0.44,0.96 L0.24,0.86 L0.06,0.88 L0.04,1.0 L-0.04,1.0 L-0.06,0.88 L-0.24,0.86 L-0.44,0.96 L-0.56,0.93 L-0.4,0.78 C-0.52,0.66 -0.52,0.5 -0.4,0.4 L-0.46,0.33 L-0.3,0.3 L-0.22,0.2 C-0.2,0.1 -0.12,0.02 0,0.02 Z" transform="translate(194.7,96.7) scale(12.75,35.25)" fill="#3f2c9c" fill-opacity="0.61"/></g>
<g filter="url(#blurM)"><path d="M0,0.02 C0.12,0.02 0.2,0.1 0.22,0.2 L0.3,0.3 L0.46,0.33 L0.4,0.4 C0.52,0.5 0.52,0.66 0.4,0.78 L0.56,0.93 L0.44,0.96 L0.24,0.86 L0.06,0.88 L0.04,1.0 L-0.04,1.0 L-0.06,0.88 L-0.24,0.86 L-0.44,0.96 L-0.56,0.93 L-0.4,0.78 C-0.52,0.66 -0.52,0.5 -0.4,0.4 L-0.46,0.33 L-0.3,0.3 L-0.22,0.2 C-0.2,0.1 -0.12,0.02 0,0.02 Z" transform="translate(213.0,92.0) scale(15.75,47.00)" fill="url(#furBody)" fill-opacity="0.8"/></g>
<g filter="url(#blurM)"><path d="M0,0.02 C0.12,0.02 0.2,0.1 0.22,0.2 L0.3,0.3 L0.46,0.33 L0.4,0.4 C0.52,0.5 0.52,0.66 0.4,0.78 L0.56,0.93 L0.44,0.96 L0.24,0.86 L0.06,0.88 L0.04,1.0 L-0.04,1.0 L-0.06,0.88 L-0.24,0.86 L-0.44,0.96 L-0.56,0.93 L-0.4,0.78 C-0.52,0.66 -0.52,0.5 -0.4,0.4 L-0.46,0.33 L-0.3,0.3 L-0.22,0.2 C-0.2,0.1 -0.12,0.02 0,0.02 Z" transform="translate(213.0,96.7) scale(12.75,35.25)" fill="#3f2c9c" fill-opacity="0.61"/></g>
<path d="M136.8,129.6 L133.5,135.7 L134.7,140.6" fill="none" stroke="#8a8a8a" stroke-width="1" stroke-opacity="0.75"/>
<path d="M145.2,129.6 L148.5,135.7 L147.3,140.6" fill="none" stroke="#8a8a8a" stroke-width="1" stroke-opacity="0.75"/>
<line x1="141.0" y1="131.9" x2="141.6" y2="140.6" stroke="#8a8a8a" stroke-width="0.9" stroke-opacity="0.7"/>
<path d="M153.8,129.6 L150.5,135.7 L151.7,140.6" fill="none" stroke="#8a8a8a" stroke-width="1" stroke-opacity="0.75"/>
<path d="M162.2,129.6 L165.5,135.7 L164.3,140.6" fill="none" stroke="#8a8a8a" stroke-width="1" stroke-opacity="0.75"/>
<line x1="158.0" y1="131.9" x2="158.6" y2="140.6" stroke="#8a8a8a" stroke-width="0.9" stroke-opacity="0.7"/>
<path d="M172.3,129.6 L169.0,135.7 L170.2,140.6" fill="none" stroke="#8a8a8a" stroke-width="1" stroke-opacity="0.75"/>
<path d="M180.7,129.6 L184.0,135.7 L182.8,140.6" fill="none" stroke="#8a8a8a" stroke-width="1" stroke-opacity="0.75"/>
<line x1="176.5" y1="131.9" x2="177.1" y2="140.6" stroke="#8a8a8a" stroke-width="0.9" stroke-opacity="0.7"/>
<path d="M190.5,129.6 L187.2,135.7 L188.4,140.6" fill="none" stroke="#8a8a8a" stroke-width="1" stroke-opacity="0.75"/>
<path d="M198.9,129.6 L202.2,135.7 L201.0,140.6" fill="none" stroke="#8a8a8a" stroke-width="1" stroke-opacity="0.75"/>
<line x1="194.7" y1="131.9" x2="195.3" y2="140.6" stroke="#8a8a8a" stroke-width="0.9" stroke-opacity="0.7"/>
<path d="M208.8,129.6 L205.5,135.7 L206.7,140.6" fill="none" stroke="#8a8a8a" stroke-width="1" stroke-opacity="0.75"/>
<path d="M217.2,129.6 L220.5,135.7 L219.3,140.6" fill="none" stroke="#8a8a8a" stroke-width="1" stroke-opacity="0.75"/>
<line x1="213.0" y1="131.9" x2="213.6" y2="140.6" stroke="#8a8a8a" stroke-width="0.9" stroke-opacity="0.7"/>
<rect x="127.3" y="89.8" width="100.5" height="50.8" filter="url(#grain)" opacity="0.45"/>
<ellipse cx="141.5" cy="118.5" rx="7.2" ry="9.1" fill="url(#hotC)"/>
<ellipse cx="140.0" cy="105.0" rx="3.6" ry="4.5" fill="url(#hotC)"/>
<ellipse cx="158.0" cy="120.3" rx="9.1" ry="9.8" fill="url(#hotR)"/>
<ellipse cx="176.0" cy="122.0" rx="8.5" ry="11.1" fill="url(#hotG)"/>
<ellipse cx="177.0" cy="106.5" rx="5.2" ry="6.5" fill="url(#hotG)"/>
<ellipse cx="193.0" cy="119.0" rx="6.5" ry="9.1" fill="url(#hotC)"/>
<ellipse cx="214.5" cy="107.0" rx="5.2" ry="5.9" fill="url(#hotR)"/>
<ellipse cx="211.5" cy="121.0" rx="7.8" ry="10.4" fill="url(#hotG)"/>
<ellipse cx="176.5" cy="97.0" rx="2.9" ry="3.2" fill="url(#hotC)"/>
</g>
<clipPath id="clipA5"><rect x="232" y="89.8" width="100" height="50.8"/></clipPath>
<g clip-path="url(#clipA5)">
<rect x="232" y="89.8" width="100" height="50.8" fill="#353535" />
<rect x="232" y="89.8" width="100" height="50.8" filter="url(#bgGray2)" opacity="0.2"/>
<linearGradient id="fd5" x1="0" y1="0" x2="0" y2="1"><stop offset="0" stop-color="#353535" stop-opacity="0"/><stop offset="1" stop-color="#353535" stop-opacity="1"/></linearGradient>
<rect x="232" y="89.8" width="100" height="16" filter="url(#topbgGray2)"/>
<rect x="232" y="96.3" width="100" height="10" fill="url(#fd5)"/>
<g filter="url(#blur05)"><rect x="241.5" y="89.8" width="5.0" height="18.0" fill="#555"/><rect x="243.0" y="92.8" width="2.0" height="12.0" fill="#383838"/></g>
<g filter="url(#blurM)"><path d="M0,0.02 C0.12,0.02 0.2,0.1 0.22,0.2 L0.3,0.3 L0.46,0.33 L0.4,0.4 C0.52,0.5 0.52,0.66 0.4,0.78 L0.56,0.93 L0.44,0.96 L0.24,0.86 L0.06,0.88 L0.04,1.0 L-0.04,1.0 L-0.06,0.88 L-0.24,0.86 L-0.44,0.96 L-0.56,0.93 L-0.4,0.78 C-0.52,0.66 -0.52,0.5 -0.4,0.4 L-0.46,0.33 L-0.3,0.3 L-0.22,0.2 C-0.2,0.1 -0.12,0.02 0,0.02 Z" transform="translate(258.0,93.0) scale(12.00,47.00)" fill="url(#grayBody2)" fill-opacity="0.80"/></g>
<g filter="url(#blurM)"><path d="M0,0.02 C0.12,0.02 0.2,0.1 0.22,0.2 L0.3,0.3 L0.46,0.33 L0.4,0.4 C0.52,0.5 0.52,0.66 0.4,0.78 L0.56,0.93 L0.44,0.96 L0.24,0.86 L0.06,0.88 L0.04,1.0 L-0.04,1.0 L-0.06,0.88 L-0.24,0.86 L-0.44,0.96 L-0.56,0.93 L-0.4,0.78 C-0.52,0.66 -0.52,0.5 -0.4,0.4 L-0.46,0.33 L-0.3,0.3 L-0.22,0.2 C-0.2,0.1 -0.12,0.02 0,0.02 Z" transform="translate(278.5,93.0) scale(12.00,47.00)" fill="url(#grayBody2)" fill-opacity="0.80"/></g>
<g filter="url(#blurM)"><path d="M0,0.02 C0.12,0.02 0.2,0.1 0.22,0.2 L0.3,0.3 L0.46,0.33 L0.4,0.4 C0.52,0.5 0.52,0.66 0.4,0.78 L0.56,0.93 L0.44,0.96 L0.24,0.86 L0.06,0.88 L0.04,1.0 L-0.04,1.0 L-0.06,0.88 L-0.24,0.86 L-0.44,0.96 L-0.56,0.93 L-0.4,0.78 C-0.52,0.66 -0.52,0.5 -0.4,0.4 L-0.46,0.33 L-0.3,0.3 L-0.22,0.2 C-0.2,0.1 -0.12,0.02 0,0.02 Z" transform="translate(299.7,93.0) scale(12.00,47.00)" fill="url(#grayBody2)" fill-opacity="0.80"/></g>
<g filter="url(#blurM)"><path d="M0,0.02 C0.12,0.02 0.2,0.1 0.22,0.2 L0.3,0.3 L0.46,0.33 L0.4,0.4 C0.52,0.5 0.52,0.66 0.4,0.78 L0.56,0.93 L0.44,0.96 L0.24,0.86 L0.06,0.88 L0.04,1.0 L-0.04,1.0 L-0.06,0.88 L-0.24,0.86 L-0.44,0.96 L-0.56,0.93 L-0.4,0.78 C-0.52,0.66 -0.52,0.5 -0.4,0.4 L-0.46,0.33 L-0.3,0.3 L-0.22,0.2 C-0.2,0.1 -0.12,0.02 0,0.02 Z" transform="translate(316.9,93.0) scale(13.00,47.00)" fill="url(#grayBody2)" fill-opacity="0.80"/></g>
<path d="M254.6,130.6 L252.0,136.7 L253.0,140.6" fill="none" stroke="#9a9a9a" stroke-width="1" stroke-opacity="0.75"/>
<path d="M261.4,130.6 L264.0,136.7 L263.0,140.6" fill="none" stroke="#9a9a9a" stroke-width="1" stroke-opacity="0.75"/>
<line x1="258.0" y1="132.9" x2="258.6" y2="140.6" stroke="#9a9a9a" stroke-width="0.9" stroke-opacity="0.7"/>
<path d="M275.1,130.6 L272.5,136.7 L273.5,140.6" fill="none" stroke="#9a9a9a" stroke-width="1" stroke-opacity="0.75"/>
<path d="M281.9,130.6 L284.5,136.7 L283.5,140.6" fill="none" stroke="#9a9a9a" stroke-width="1" stroke-opacity="0.75"/>
<line x1="278.5" y1="132.9" x2="279.1" y2="140.6" stroke="#9a9a9a" stroke-width="0.9" stroke-opacity="0.7"/>
<path d="M296.3,130.6 L293.7,136.7 L294.7,140.6" fill="none" stroke="#9a9a9a" stroke-width="1" stroke-opacity="0.75"/>
<path d="M303.1,130.6 L305.7,136.7 L304.7,140.6" fill="none" stroke="#9a9a9a" stroke-width="1" stroke-opacity="0.75"/>
<line x1="299.7" y1="132.9" x2="300.3" y2="140.6" stroke="#9a9a9a" stroke-width="0.9" stroke-opacity="0.7"/>
<path d="M313.3,130.6 L310.4,136.7 L311.4,140.6" fill="none" stroke="#9a9a9a" stroke-width="1" stroke-opacity="0.75"/>
<path d="M320.5,130.6 L323.4,136.7 L322.4,140.6" fill="none" stroke="#9a9a9a" stroke-width="1" stroke-opacity="0.75"/>
<line x1="316.9" y1="132.9" x2="317.5" y2="140.6" stroke="#9a9a9a" stroke-width="0.9" stroke-opacity="0.7"/>
<rect x="232" y="89.8" width="100" height="50.8" filter="url(#grain)" opacity="0.22"/>
<ellipse cx="258.0" cy="114.0" rx="3.5" ry="4.0" fill="url(#hotPf)"/>
<ellipse cx="279.0" cy="118.0" rx="4.5" ry="5.0" fill="url(#hotP)"/>
<ellipse cx="317.0" cy="121.0" rx="8.5" ry="11.0" fill="url(#hotP)"/>
<ellipse cx="317.0" cy="102.0" rx="4.0" ry="4.5" fill="url(#hotPf)"/>
</g>
<text x="365.7" y="15.8" font-size="12.2" text-anchor="start" font-weight="bold" fill="#000" class="b">B</text>
<text x="453.4" y="27.3" font-size="8.5" text-anchor="middle" font-weight="bold" fill="#111" letter-spacing="0.12">BLI</text>
<text transform="translate(374.2,75.6) rotate(-90)" font-size="8" letter-spacing="-0.12" text-anchor="middle" fill="#333" class="">Photons x 10<tspan font-size="4.8" dy="-3">7</tspan></text>
<line x1="390.6" y1="115.3" x2="394" y2="115.3" stroke="#111" stroke-width="1.05"/>
<text x="388.2" y="117.4" font-size="5.7" text-anchor="end" font-weight="normal" fill="#1a1a1a" letter-spacing="0.2" class="s">0</text>
<line x1="390.6" y1="89.07" x2="394" y2="89.07" stroke="#111" stroke-width="1.05"/>
<text x="388.2" y="91.17" font-size="5.7" text-anchor="end" font-weight="normal" fill="#1a1a1a" letter-spacing="0.2" class="s">5</text>
<line x1="390.6" y1="62.83" x2="394" y2="62.83" stroke="#111" stroke-width="1.05"/>
<text x="388.2" y="64.93" font-size="5.7" text-anchor="end" font-weight="normal" fill="#1a1a1a" letter-spacing="0.2" class="s">10</text>
<line x1="390.6" y1="36.6" x2="394" y2="36.6" stroke="#111" stroke-width="1.05"/>
<text x="388.2" y="38.7" font-size="5.7" text-anchor="end" font-weight="normal" fill="#1a1a1a" letter-spacing="0.2" class="s">15</text>
<line x1="405.5" y1="80.2" x2="405.5" y2="91.3" stroke="#111" stroke-width="1"/>
<line x1="400.74" y1="80.2" x2="410.26" y2="80.2" stroke="#111" stroke-width="1.1"/>
<rect x="397" y="90.8" width="17" height="24.5" fill="#a6012c" />
<line x1="429.4" y1="86.3" x2="429.4" y2="91.3" stroke="#111" stroke-width="1"/>
<line x1="424.64" y1="86.3" x2="434.16" y2="86.3" stroke="#111" stroke-width="1.1"/>
<rect x="420.9" y="90.8" width="17" height="24.5" fill="#2e4f7e" />
<line x1="453.2" y1="112.4" x2="453.2" y2="113.8" stroke="#111" stroke-width="1"/>
<line x1="448.44" y1="112.4" x2="457.96" y2="112.4" stroke="#111" stroke-width="1.1"/>
<rect x="444.7" y="113.3" width="17" height="2" fill="#9298ba" />
<line x1="477.2" y1="49.2" x2="477.2" y2="61.3" stroke="#111" stroke-width="1"/>
<line x1="472.44" y1="49.2" x2="481.96" y2="49.2" stroke="#111" stroke-width="1.1"/>
<rect x="468.7" y="60.8" width="17" height="54.5" fill="#66a843" />
<line x1="501" y1="112.7" x2="501" y2="114.7" stroke="#111" stroke-width="1"/>
<line x1="496.24" y1="112.7" x2="505.76" y2="112.7" stroke="#111" stroke-width="1.1"/>
<rect x="492.5" y="114.2" width="17" height="1.1" fill="#bad49a" />
<line x1="394" y1="33.6" x2="394" y2="116" stroke="#111" stroke-width="1.4"/>
<line x1="393.3" y1="115.3" x2="512.5" y2="115.3" stroke="#111" stroke-width="1.45"/>
<line x1="405.5" y1="115.3" x2="405.5" y2="118.6" stroke="#111" stroke-width="1.1"/>
<text transform="translate(408.2,125.1) rotate(-45)" font-size="6.2" text-anchor="end" fill="#1a1a1a" class="s">BM Only</text>
<line x1="429.4" y1="115.3" x2="429.4" y2="118.6" stroke="#111" stroke-width="1.1"/>
<text transform="translate(432.1,125.1) rotate(-45)" font-size="6.2" text-anchor="end" fill="#1a1a1a" class="s">cGVHD</text>
<line x1="453.2" y1="115.3" x2="453.2" y2="118.6" stroke="#111" stroke-width="1.1"/>
<text transform="translate(455.9,125.1) rotate(-45)" font-size="6.2" text-anchor="end" fill="#1a1a1a" class="s">cGVHD (DT)</text>
<line x1="477.2" y1="115.3" x2="477.2" y2="118.6" stroke="#111" stroke-width="1.1"/>
<text transform="translate(479.9,125.1) rotate(-45)" font-size="6.2" text-anchor="end" fill="#1a1a1a" class="s">iNKT</text>
<line x1="501" y1="115.3" x2="501" y2="118.6" stroke="#111" stroke-width="1.1"/>
<text transform="translate(503.7,125.1) rotate(-45)" font-size="6.2" text-anchor="end" fill="#1a1a1a" class="s">iNKT (DT)</text>
<line x1="432.8" y1="46.5" x2="477" y2="46.5" stroke="#000" stroke-width="1.05"/>
<text x="455.2" y="47.8" font-size="7" text-anchor="middle" font-weight="bold" fill="#111" letter-spacing="0.6">*</text>
<text x="6.9" y="176.3" font-size="12.8" text-anchor="start" font-weight="normal" fill="#000" class="r">C</text>
<text x="416" y="176.1" font-size="12.4" text-anchor="start" font-weight="bold" fill="#000" class="b">D</text>
<text x="7.1" y="304.7" font-size="12.6" text-anchor="start" font-weight="normal" fill="#000" class="r">E</text>
<text x="7.4" y="438.8" font-size="12.6" text-anchor="start" font-weight="normal" fill="#000" class="r">F</text>
<text x="6.6" y="578.9" font-size="12.8" text-anchor="start" font-weight="normal" fill="#000" class="r">G</text>
<text x="93.5" y="176.8" font-size="8.5" text-anchor="middle" font-weight="bold" fill="#111" letter-spacing="0.12">Resistance</text>
<text transform="translate(26.7,214.9) rotate(-90)" font-size="8.5" letter-spacing="-0.12" text-anchor="middle" fill="#222" class="s">cmH<tspan font-size="5.6" dy="2.2">2</tspan><tspan dy="-2.2">O.s/mL</tspan></text>
<line x1="46.6" y1="246" x2="50" y2="246" stroke="#111" stroke-width="1.05"/>
<text x="44.8" y="248.1" font-size="6.3" text-anchor="end" font-weight="normal" fill="#1a1a1a" letter-spacing="0.2" class="s">0.0</text>
<line x1="46.6" y1="234.3" x2="50" y2="234.3" stroke="#111" stroke-width="1.05"/>
<text x="44.8" y="236.4" font-size="6.3" text-anchor="end" font-weight="normal" fill="#1a1a1a" letter-spacing="0.2" class="s">0.2</text>
<line x1="46.6" y1="222.6" x2="50" y2="222.6" stroke="#111" stroke-width="1.05"/>
<text x="44.8" y="224.7" font-size="6.3" text-anchor="end" font-weight="normal" fill="#1a1a1a" letter-spacing="0.2" class="s">0.4</text>
<line x1="46.6" y1="210.9" x2="50" y2="210.9" stroke="#111" stroke-width="1.05"/>
<text x="44.8" y="213" font-size="6.3" text-anchor="end" font-weight="normal" fill="#1a1a1a" letter-spacing="0.2" class="s">0.6</text>
<line x1="46.6" y1="199.2" x2="50" y2="199.2" stroke="#111" stroke-width="1.05"/>
<text x="44.8" y="201.3" font-size="6.3" text-anchor="end" font-weight="normal" fill="#1a1a1a" letter-spacing="0.2" class="s">0.8</text>
<line x1="46.6" y1="187.5" x2="50" y2="187.5" stroke="#111" stroke-width="1.05"/>
<text x="44.8" y="189.6" font-size="6.3" text-anchor="end" font-weight="normal" fill="#1a1a1a" letter-spacing="0.2" class="s">1.0</text>
<line x1="58.6" y1="212.3" x2="58.6" y2="214" stroke="#111" stroke-width="1"/>
<line x1="55.1" y1="212.3" x2="62.1" y2="212.3" stroke="#111" stroke-width="1.1"/>
<rect x="52.35" y="213.5" width="12.5" height="32.5" fill="#a6012c" />
<line x1="76.1" y1="195.5" x2="76.1" y2="201.7" stroke="#111" stroke-width="1"/>
<line x1="72.6" y1="195.5" x2="79.6" y2="195.5" stroke="#111" stroke-width="1.1"/>
<rect x="69.85" y="201.2" width="12.5" height="44.8" fill="#2e4f7e" />
<line x1="93.6" y1="195" x2="93.6" y2="202" stroke="#111" stroke-width="1"/>
<line x1="90.1" y1="195" x2="97.1" y2="195" stroke="#111" stroke-width="1.1"/>
<rect x="87.35" y="201.5" width="12.5" height="44.5" fill="#9298ba" />
<line x1="111.1" y1="211.6" x2="111.1" y2="213.2" stroke="#111" stroke-width="1"/>
<line x1="107.6" y1="211.6" x2="114.6" y2="211.6" stroke="#111" stroke-width="1.1"/>
<rect x="104.85" y="212.7" width="12.5" height="33.3" fill="#66a843" />
<line x1="128.6" y1="203.5" x2="128.6" y2="205.8" stroke="#111" stroke-width="1"/>
<line x1="125.1" y1="203.5" x2="132.1" y2="203.5" stroke="#111" stroke-width="1.1"/>
<rect x="122.35" y="205.3" width="12.5" height="40.7" fill="#bad49a" />
<line x1="50" y1="184.5" x2="50" y2="246.7" stroke="#111" stroke-width="1.4"/>
<line x1="49.3" y1="246" x2="137" y2="246" stroke="#111" stroke-width="1.45"/>
<line x1="58.6" y1="246" x2="58.6" y2="249.3" stroke="#111" stroke-width="1.1"/>
<text transform="translate(59.8,254.2) rotate(-45)" font-size="6.35" text-anchor="end" fill="#1a1a1a" class="s">BM Only</text>
<line x1="76.1" y1="246" x2="76.1" y2="249.3" stroke="#111" stroke-width="1.1"/>
<text transform="translate(77.3,254.2) rotate(-45)" font-size="6.35" text-anchor="end" fill="#1a1a1a" class="s">cGVHD</text>
<line x1="93.6" y1="246" x2="93.6" y2="249.3" stroke="#111" stroke-width="1.1"/>
<text transform="translate(94.8,254.2) rotate(-45)" font-size="6.35" text-anchor="end" fill="#1a1a1a" class="s">cGVHD (DT)</text>
<line x1="111.1" y1="246" x2="111.1" y2="249.3" stroke="#111" stroke-width="1.1"/>
<text transform="translate(112.3,254.2) rotate(-45)" font-size="6.35" text-anchor="end" fill="#1a1a1a" class="s">iNKT</text>
<line x1="128.6" y1="246" x2="128.6" y2="249.3" stroke="#111" stroke-width="1.1"/>
<text transform="translate(129.8,254.2) rotate(-45)" font-size="6.35" text-anchor="end" fill="#1a1a1a" class="s">iNKT (DT)</text>
<line x1="59.8" y1="192.8" x2="74.6" y2="192.8" stroke="#000" stroke-width="1.05"/>
<text x="67.5" y="194.1" font-size="7" text-anchor="middle" font-weight="bold" fill="#111" letter-spacing="0.6">*</text>
<line x1="77.2" y1="192.8" x2="109" y2="192.8" stroke="#000" stroke-width="1.05"/>
<text x="93.4" y="194.1" font-size="7" text-anchor="middle" font-weight="bold" fill="#111" letter-spacing="0.6">*</text>
<line x1="111.2" y1="192.8" x2="129.2" y2="192.8" stroke="#000" stroke-width="1.05"/>
<text x="120.5" y="194.1" font-size="7" text-anchor="middle" font-weight="bold" fill="#111" letter-spacing="0.6">**</text>
<line x1="90.8" y1="187.6" x2="125.4" y2="187.6" stroke="#000" stroke-width="1.05"/>
<text x="108.1" y="186.4" font-size="6" text-anchor="middle" font-weight="normal" fill="#222" class="s">ns</text>
<text x="222.3" y="176.8" font-size="8.5" text-anchor="middle" font-weight="bold" fill="#111" letter-spacing="0.12">Elastance</text>
<text transform="translate(156.1,215.3) rotate(-90)" font-size="8.5" letter-spacing="-0.12" text-anchor="middle" fill="#222" class="s">cmH<tspan font-size="5.6" dy="2.2">2</tspan><tspan dy="-2.2">O.s/mL</tspan></text>
<line x1="175.35" y1="246" x2="178.75" y2="246" stroke="#111" stroke-width="1.05"/>
<text x="172.55" y="248.1" font-size="6.3" text-anchor="end" font-weight="normal" fill="#1a1a1a" letter-spacing="0.2" class="s">0</text>
<line x1="175.35" y1="226.5" x2="178.75" y2="226.5" stroke="#111" stroke-width="1.05"/>
<text x="172.55" y="228.6" font-size="6.3" text-anchor="end" font-weight="normal" fill="#1a1a1a" letter-spacing="0.2" class="s">20</text>
<line x1="175.35" y1="207" x2="178.75" y2="207" stroke="#111" stroke-width="1.05"/>
<text x="172.55" y="209.1" font-size="6.3" text-anchor="end" font-weight="normal" fill="#1a1a1a" letter-spacing="0.2" class="s">40</text>
<line x1="175.35" y1="187.5" x2="178.75" y2="187.5" stroke="#111" stroke-width="1.05"/>
<text x="172.55" y="189.6" font-size="6.3" text-anchor="end" font-weight="normal" fill="#1a1a1a" letter-spacing="0.2" class="s">60</text>
<line x1="187.5" y1="216.75" x2="187.5" y2="218.75" stroke="#111" stroke-width="1"/>
<line x1="184" y1="216.75" x2="191" y2="216.75" stroke="#111" stroke-width="1.1"/>
<rect x="181.25" y="218.25" width="12.5" height="27.75" fill="#a6012c" />
<line x1="204.9" y1="201" x2="204.9" y2="205" stroke="#111" stroke-width="1"/>
<line x1="201.4" y1="201" x2="208.4" y2="201" stroke="#111" stroke-width="1.1"/>
<rect x="198.65" y="204.5" width="12.5" height="41.5" fill="#2e4f7e" />
<line x1="222.3" y1="197" x2="222.3" y2="204" stroke="#111" stroke-width="1"/>
<line x1="218.8" y1="197" x2="225.8" y2="197" stroke="#111" stroke-width="1.1"/>
<rect x="216.05" y="203.5" width="12.5" height="42.5" fill="#9298ba" />
<line x1="239.7" y1="214.6" x2="239.7" y2="217" stroke="#111" stroke-width="1"/>
<line x1="236.2" y1="214.6" x2="243.2" y2="214.6" stroke="#111" stroke-width="1.1"/>
<rect x="233.45" y="216.5" width="12.5" height="29.5" fill="#66a843" />
<line x1="257.1" y1="205.6" x2="257.1" y2="209.2" stroke="#111" stroke-width="1"/>
<line x1="253.6" y1="205.6" x2="260.6" y2="205.6" stroke="#111" stroke-width="1.1"/>
<rect x="250.85" y="208.7" width="12.5" height="37.3" fill="#bad49a" />
<line x1="178.75" y1="184.5" x2="178.75" y2="246.7" stroke="#111" stroke-width="1.4"/>
<line x1="178.05" y1="246" x2="266" y2="246" stroke="#111" stroke-width="1.45"/>
<line x1="187.5" y1="246" x2="187.5" y2="249.3" stroke="#111" stroke-width="1.1"/>
<text transform="translate(188.7,254.2) rotate(-45)" font-size="6.35" text-anchor="end" fill="#1a1a1a" class="s">BM Only</text>
<line x1="204.9" y1="246" x2="204.9" y2="249.3" stroke="#111" stroke-width="1.1"/>
<text transform="translate(206.1,254.2) rotate(-45)" font-size="6.35" text-anchor="end" fill="#1a1a1a" class="s">cGVHD</text>
<line x1="222.3" y1="246" x2="222.3" y2="249.3" stroke="#111" stroke-width="1.1"/>
<text transform="translate(223.5,254.2) rotate(-45)" font-size="6.35" text-anchor="end" fill="#1a1a1a" class="s">cGVHD (DT)</text>
<line x1="239.7" y1="246" x2="239.7" y2="249.3" stroke="#111" stroke-width="1.1"/>
<text transform="translate(240.9,254.2) rotate(-45)" font-size="6.35" text-anchor="end" fill="#1a1a1a" class="s">iNKT</text>
<line x1="257.1" y1="246" x2="257.1" y2="249.3" stroke="#111" stroke-width="1.1"/>
<text transform="translate(258.3,254.2) rotate(-45)" font-size="6.35" text-anchor="end" fill="#1a1a1a" class="s">iNKT (DT)</text>
<line x1="183.75" y1="197" x2="204.7" y2="197" stroke="#000" stroke-width="1.05"/>
<text x="194.53" y="198.3" font-size="7" text-anchor="middle" font-weight="bold" fill="#111" letter-spacing="0.6">**</text>
<line x1="206.5" y1="197" x2="238.4" y2="197" stroke="#000" stroke-width="1.05"/>
<text x="222.75" y="198.3" font-size="7" text-anchor="middle" font-weight="bold" fill="#111" letter-spacing="0.6">**</text>
<line x1="220.2" y1="189.7" x2="253.2" y2="189.7" stroke="#000" stroke-width="1.05"/>
<text x="236.7" y="188.5" font-size="6" text-anchor="middle" font-weight="normal" fill="#222" class="s">ns</text>
<line x1="241" y1="197" x2="258.5" y2="197" stroke="#000" stroke-width="1.05"/>
<text x="249.75" y="195.5" font-size="5.6" text-anchor="middle" font-weight="normal" fill="#222" class="s" letter-spacing="0.1">0.0549</text>
<text x="357" y="176.8" font-size="8.5" text-anchor="middle" font-weight="bold" fill="#111" letter-spacing="0.12">Compliance</text>
<text transform="translate(285,215.5) rotate(-90)" font-size="8.5" letter-spacing="-0.12" text-anchor="middle" fill="#222" class="s">mL/cmH<tspan font-size="5.6" dy="2.2">2</tspan><tspan dy="-2.2">O</tspan></text>
<line x1="310.35" y1="246.25" x2="313.75" y2="246.25" stroke="#111" stroke-width="1.05"/>
<text x="306.45" y="248.35" font-size="6.3" text-anchor="end" font-weight="normal" fill="#1a1a1a" letter-spacing="0" class="s">0.00</text>
<line x1="310.35" y1="231.38" x2="313.75" y2="231.38" stroke="#111" stroke-width="1.05"/>
<text x="306.45" y="233.47" font-size="6.3" text-anchor="end" font-weight="normal" fill="#1a1a1a" letter-spacing="0" class="s">0.01</text>
<line x1="310.35" y1="216.5" x2="313.75" y2="216.5" stroke="#111" stroke-width="1.05"/>
<text x="306.45" y="218.6" font-size="6.3" text-anchor="end" font-weight="normal" fill="#1a1a1a" letter-spacing="0" class="s">0.02</text>
<line x1="310.35" y1="201.62" x2="313.75" y2="201.62" stroke="#111" stroke-width="1.05"/>
<text x="306.45" y="203.72" font-size="6.3" text-anchor="end" font-weight="normal" fill="#1a1a1a" letter-spacing="0" class="s">0.03</text>
<line x1="310.35" y1="186.75" x2="313.75" y2="186.75" stroke="#111" stroke-width="1.05"/>
<text x="306.45" y="188.85" font-size="6.3" text-anchor="end" font-weight="normal" fill="#1a1a1a" letter-spacing="0" class="s">0.04</text>
<line x1="322.1" y1="192.75" x2="322.1" y2="196.25" stroke="#111" stroke-width="1"/>
<line x1="318.8" y1="192.75" x2="325.4" y2="192.75" stroke="#111" stroke-width="1.1"/>
<rect x="316.2" y="195.75" width="11.8" height="50.5" fill="#a6012c" />
<line x1="339.45" y1="207.5" x2="339.45" y2="211.75" stroke="#111" stroke-width="1"/>
<line x1="336.15" y1="207.5" x2="342.75" y2="207.5" stroke="#111" stroke-width="1.1"/>
<rect x="333.55" y="211.25" width="11.8" height="35" fill="#2e4f7e" />
<line x1="356.8" y1="206.75" x2="356.8" y2="211.75" stroke="#111" stroke-width="1"/>
<line x1="353.5" y1="206.75" x2="360.1" y2="206.75" stroke="#111" stroke-width="1.1"/>
<rect x="350.9" y="211.25" width="11.8" height="35" fill="#9298ba" />
<line x1="374.15" y1="194.5" x2="374.15" y2="197.5" stroke="#111" stroke-width="1"/>
<line x1="370.85" y1="194.5" x2="377.45" y2="194.5" stroke="#111" stroke-width="1.1"/>
<rect x="368.25" y="197" width="11.8" height="49.25" fill="#66a843" />
<line x1="391.5" y1="203.75" x2="391.5" y2="207.25" stroke="#111" stroke-width="1"/>
<line x1="388.2" y1="203.75" x2="394.8" y2="203.75" stroke="#111" stroke-width="1.1"/>
<rect x="385.6" y="206.75" width="11.8" height="39.5" fill="#bad49a" />
<line x1="313.75" y1="183.75" x2="313.75" y2="246.95" stroke="#111" stroke-width="1.4"/>
<line x1="313.05" y1="246.25" x2="400" y2="246.25" stroke="#111" stroke-width="1.45"/>
<line x1="322.1" y1="246.25" x2="322.1" y2="249.55" stroke="#111" stroke-width="1.1"/>
<text transform="translate(323.3,254.45) rotate(-45)" font-size="6.35" text-anchor="end" fill="#1a1a1a" class="s">BM Only</text>
<line x1="339.45" y1="246.25" x2="339.45" y2="249.55" stroke="#111" stroke-width="1.1"/>
<text transform="translate(340.65,254.45) rotate(-45)" font-size="6.35" text-anchor="end" fill="#1a1a1a" class="s">cGVHD</text>
<line x1="356.8" y1="246.25" x2="356.8" y2="249.55" stroke="#111" stroke-width="1.1"/>
<text transform="translate(358,254.45) rotate(-45)" font-size="6.35" text-anchor="end" fill="#1a1a1a" class="s">cGVHD (DT)</text>
<line x1="374.15" y1="246.25" x2="374.15" y2="249.55" stroke="#111" stroke-width="1.1"/>
<text transform="translate(375.35,254.45) rotate(-45)" font-size="6.35" text-anchor="end" fill="#1a1a1a" class="s">iNKT</text>
<line x1="391.5" y1="246.25" x2="391.5" y2="249.55" stroke="#111" stroke-width="1.1"/>
<text transform="translate(392.7,254.45) rotate(-45)" font-size="6.35" text-anchor="end" fill="#1a1a1a" class="s">iNKT (DT)</text>
<line x1="318.75" y1="192" x2="340" y2="192" stroke="#000" stroke-width="1.05"/>
<text x="329.68" y="193.3" font-size="7" text-anchor="middle" font-weight="bold" fill="#111" letter-spacing="0.6">**</text>
<line x1="342.5" y1="192" x2="367.5" y2="192" stroke="#000" stroke-width="1.05"/>
<text x="355.3" y="193.3" font-size="7" text-anchor="middle" font-weight="bold" fill="#111" letter-spacing="0.6">**</text>
<line x1="370" y1="192" x2="393.75" y2="192" stroke="#000" stroke-width="1.05"/>
<text x="382.18" y="193.3" font-size="7" text-anchor="middle" font-weight="bold" fill="#111" letter-spacing="0.6">*</text>
<line x1="356.25" y1="185" x2="387.5" y2="185" stroke="#000" stroke-width="1.05"/>
<text x="371.88" y="183.8" font-size="6" text-anchor="middle" font-weight="normal" fill="#222" class="s">ns</text>
<text x="94" y="305.3" font-size="8.5" text-anchor="middle" font-weight="bold" fill="#111" letter-spacing="0.12">Resistance</text>
<text transform="translate(25.2,342) rotate(-90)" font-size="8.5" letter-spacing="-0.12" text-anchor="middle" fill="#222" class="s">cmH<tspan font-size="5.6" dy="2.2">2</tspan><tspan dy="-2.2">O.s/mL</tspan></text>
<line x1="45.8" y1="376.5" x2="49.2" y2="376.5" stroke="#111" stroke-width="1.05"/>
<text x="44" y="378.6" font-size="6.3" text-anchor="end" font-weight="normal" fill="#1a1a1a" letter-spacing="0.2" class="s">0.0</text>
<line x1="45.8" y1="364.78" x2="49.2" y2="364.78" stroke="#111" stroke-width="1.05"/>
<text x="44" y="366.88" font-size="6.3" text-anchor="end" font-weight="normal" fill="#1a1a1a" letter-spacing="0.2" class="s">0.2</text>
<line x1="45.8" y1="353.06" x2="49.2" y2="353.06" stroke="#111" stroke-width="1.05"/>
<text x="44" y="355.16" font-size="6.3" text-anchor="end" font-weight="normal" fill="#1a1a1a" letter-spacing="0.2" class="s">0.4</text>
<line x1="45.8" y1="341.34" x2="49.2" y2="341.34" stroke="#111" stroke-width="1.05"/>
<text x="44" y="343.44" font-size="6.3" text-anchor="end" font-weight="normal" fill="#1a1a1a" letter-spacing="0.2" class="s">0.6</text>
<line x1="45.8" y1="329.62" x2="49.2" y2="329.62" stroke="#111" stroke-width="1.05"/>
<text x="44" y="331.72" font-size="6.3" text-anchor="end" font-weight="normal" fill="#1a1a1a" letter-spacing="0.2" class="s">0.8</text>
<line x1="45.8" y1="317.9" x2="49.2" y2="317.9" stroke="#111" stroke-width="1.05"/>
<text x="44" y="320" font-size="6.3" text-anchor="end" font-weight="normal" fill="#1a1a1a" letter-spacing="0.2" class="s">1.0</text>
<line x1="61" y1="340.8" x2="61" y2="342.2" stroke="#111" stroke-width="1"/>
<line x1="57.78" y1="340.8" x2="64.22" y2="340.8" stroke="#111" stroke-width="1.1"/>
<rect x="55.25" y="341.7" width="11.5" height="34.8" fill="#a6012c" />
<line x1="77.52" y1="325" x2="77.52" y2="329.3" stroke="#111" stroke-width="1"/>
<line x1="74.3" y1="325" x2="80.74" y2="325" stroke="#111" stroke-width="1.1"/>
<rect x="71.77" y="328.8" width="11.5" height="47.7" fill="#2e4f7e" />
<line x1="94.04" y1="338.5" x2="94.04" y2="340.3" stroke="#111" stroke-width="1"/>
<line x1="90.82" y1="338.5" x2="97.26" y2="338.5" stroke="#111" stroke-width="1.1"/>
<rect x="88.29" y="339.8" width="11.5" height="36.7" fill="#66a843" />
<line x1="110.56" y1="332.7" x2="110.56" y2="336.5" stroke="#111" stroke-width="1"/>
<line x1="107.34" y1="332.7" x2="113.78" y2="332.7" stroke="#111" stroke-width="1.1"/>
<rect x="104.81" y="336" width="11.5" height="40.5" fill="#54256a" />
<line x1="127.08" y1="330.4" x2="127.08" y2="334.3" stroke="#111" stroke-width="1"/>
<line x1="123.86" y1="330.4" x2="130.3" y2="330.4" stroke="#111" stroke-width="1.1"/>
<rect x="121.33" y="333.8" width="11.5" height="42.7" fill="#d88c18" />
<line x1="49.2" y1="314.9" x2="49.2" y2="377.2" stroke="#111" stroke-width="1.4"/>
<line x1="48.5" y1="376.5" x2="136" y2="376.5" stroke="#111" stroke-width="1.45"/>
<line x1="61" y1="376.5" x2="61" y2="379.8" stroke="#111" stroke-width="1.1"/>
<text transform="translate(62.2,384.7) rotate(-45)" font-size="6.35" text-anchor="end" fill="#1a1a1a" class="s">BM Only</text>
<line x1="77.52" y1="376.5" x2="77.52" y2="379.8" stroke="#111" stroke-width="1.1"/>
<text transform="translate(78.72,384.7) rotate(-45)" font-size="6.35" text-anchor="end" fill="#1a1a1a" class="s">cGVHD</text>
<line x1="94.04" y1="376.5" x2="94.04" y2="379.8" stroke="#111" stroke-width="1.1"/>
<text transform="translate(95.24,384.7) rotate(-45)" font-size="6.35" text-anchor="end" fill="#1a1a1a" class="s">wt iNKT</text>
<line x1="110.56" y1="376.5" x2="110.56" y2="379.8" stroke="#111" stroke-width="1.1"/>
<text transform="translate(111.76,384.7) rotate(-45)" font-size="6.35" text-anchor="end" fill="#1a1a1a" class="s">CXCR5<tspan font-size="4" dy="-2">-/-</tspan><tspan dy="2"> iNKT</tspan></text>
<line x1="127.08" y1="376.5" x2="127.08" y2="379.8" stroke="#111" stroke-width="1.1"/>
<text transform="translate(128.28,384.7) rotate(-45)" font-size="6.35" text-anchor="end" fill="#1a1a1a" class="s">IL4<tspan font-size="4" dy="-2">-/-</tspan><tspan dy="2"> iNKT</tspan></text>
<line x1="58.3" y1="324" x2="76.5" y2="324" stroke="#000" stroke-width="1.05"/>
<text x="67.7" y="325.3" font-size="7" text-anchor="middle" font-weight="bold" fill="#111" letter-spacing="0.6">*</text>
<line x1="80" y1="324" x2="93.8" y2="324" stroke="#000" stroke-width="1.05"/>
<text x="87.2" y="325.3" font-size="7" text-anchor="middle" font-weight="bold" fill="#111" letter-spacing="0.6">*</text>
<line x1="80" y1="318.7" x2="111.5" y2="318.7" stroke="#000" stroke-width="1.05"/>
<text x="95.75" y="317.5" font-size="6" text-anchor="middle" font-weight="normal" fill="#222" class="s">ns</text>
<line x1="80" y1="313.5" x2="129.8" y2="313.5" stroke="#000" stroke-width="1.05"/>
<text x="104.9" y="312.3" font-size="6" text-anchor="middle" font-weight="normal" fill="#222" class="s">ns</text>
<text x="222.5" y="302.3" font-size="8.5" text-anchor="middle" font-weight="bold" fill="#111" letter-spacing="0.12">Elastance</text>
<text transform="translate(156,346.2) rotate(-90)" font-size="8.5" letter-spacing="-0.12" text-anchor="middle" fill="#222" class="s">cmH<tspan font-size="5.6" dy="2.2">2</tspan><tspan dy="-2.2">O/mL</tspan></text>
<line x1="174.85" y1="376.75" x2="178.25" y2="376.75" stroke="#111" stroke-width="1.05"/>
<text x="172.05" y="378.85" font-size="6.3" text-anchor="end" font-weight="normal" fill="#1a1a1a" letter-spacing="0.2" class="s">0</text>
<line x1="174.85" y1="357.42" x2="178.25" y2="357.42" stroke="#111" stroke-width="1.05"/>
<text x="172.05" y="359.52" font-size="6.3" text-anchor="end" font-weight="normal" fill="#1a1a1a" letter-spacing="0.2" class="s">20</text>
<line x1="174.85" y1="338.08" x2="178.25" y2="338.08" stroke="#111" stroke-width="1.05"/>
<text x="172.05" y="340.18" font-size="6.3" text-anchor="end" font-weight="normal" fill="#1a1a1a" letter-spacing="0.2" class="s">40</text>
<line x1="174.85" y1="318.75" x2="178.25" y2="318.75" stroke="#111" stroke-width="1.05"/>
<text x="172.05" y="320.85" font-size="6.3" text-anchor="end" font-weight="normal" fill="#1a1a1a" letter-spacing="0.2" class="s">60</text>
<line x1="189.4" y1="347.25" x2="189.4" y2="348.75" stroke="#111" stroke-width="1"/>
<line x1="186.04" y1="347.25" x2="192.76" y2="347.25" stroke="#111" stroke-width="1.1"/>
<rect x="183.4" y="348.25" width="12" height="28.5" fill="#a6012c" />
<line x1="206.05" y1="322" x2="206.05" y2="328.5" stroke="#111" stroke-width="1"/>
<line x1="202.69" y1="322" x2="209.41" y2="322" stroke="#111" stroke-width="1.1"/>
<rect x="200.05" y="328" width="12" height="48.75" fill="#2e4f7e" />
<line x1="222.7" y1="342.5" x2="222.7" y2="343.75" stroke="#111" stroke-width="1"/>
<line x1="219.34" y1="342.5" x2="226.06" y2="342.5" stroke="#111" stroke-width="1.1"/>
<rect x="216.7" y="343.25" width="12" height="33.5" fill="#66a843" />
<line x1="239.35" y1="333.75" x2="239.35" y2="336" stroke="#111" stroke-width="1"/>
<line x1="235.99" y1="333.75" x2="242.71" y2="333.75" stroke="#111" stroke-width="1.1"/>
<rect x="233.35" y="335.5" width="12" height="41.25" fill="#54256a" />
<line x1="256" y1="323.75" x2="256" y2="330.5" stroke="#111" stroke-width="1"/>
<line x1="252.64" y1="323.75" x2="259.36" y2="323.75" stroke="#111" stroke-width="1.1"/>
<rect x="250" y="330" width="12" height="46.75" fill="#d88c18" />
<line x1="178.25" y1="315.75" x2="178.25" y2="377.45" stroke="#111" stroke-width="1.4"/>
<line x1="177.55" y1="376.75" x2="266" y2="376.75" stroke="#111" stroke-width="1.45"/>
<line x1="189.4" y1="376.75" x2="189.4" y2="380.05" stroke="#111" stroke-width="1.1"/>
<text transform="translate(190.6,384.95) rotate(-45)" font-size="6.35" text-anchor="end" fill="#1a1a1a" class="s">BM Only</text>
<line x1="206.05" y1="376.75" x2="206.05" y2="380.05" stroke="#111" stroke-width="1.1"/>
<text transform="translate(207.25,384.95) rotate(-45)" font-size="6.35" text-anchor="end" fill="#1a1a1a" class="s">cGVHD</text>
<line x1="222.7" y1="376.75" x2="222.7" y2="380.05" stroke="#111" stroke-width="1.1"/>
<text transform="translate(223.9,384.95) rotate(-45)" font-size="6.35" text-anchor="end" fill="#1a1a1a" class="s">wt iNKT</text>
<line x1="239.35" y1="376.75" x2="239.35" y2="380.05" stroke="#111" stroke-width="1.1"/>
<text transform="translate(240.55,384.95) rotate(-45)" font-size="6.35" text-anchor="end" fill="#1a1a1a" class="s">CXCR5<tspan font-size="4" dy="-2">-/-</tspan><tspan dy="2"> iNKT</tspan></text>
<line x1="256" y1="376.75" x2="256" y2="380.05" stroke="#111" stroke-width="1.1"/>
<text transform="translate(257.2,384.95) rotate(-45)" font-size="6.35" text-anchor="end" fill="#1a1a1a" class="s">IL4<tspan font-size="4" dy="-2">-/-</tspan><tspan dy="2"> iNKT</tspan></text>
<line x1="187" y1="320.5" x2="205" y2="320.5" stroke="#000" stroke-width="1.05"/>
<text x="196.3" y="321.8" font-size="7" text-anchor="middle" font-weight="bold" fill="#111" letter-spacing="0.6">**</text>
<line x1="207.5" y1="320.5" x2="222.5" y2="320.5" stroke="#000" stroke-width="1.05"/>
<text x="215.3" y="321.8" font-size="7" text-anchor="middle" font-weight="bold" fill="#111" letter-spacing="0.6">*</text>
<line x1="207.5" y1="315.5" x2="240" y2="315.5" stroke="#000" stroke-width="1.05"/>
<text x="223.75" y="314.3" font-size="6" text-anchor="middle" font-weight="normal" fill="#222" class="s">ns</text>
<line x1="207.5" y1="309.5" x2="257.5" y2="309.5" stroke="#000" stroke-width="1.05"/>
<text x="232.5" y="308.3" font-size="6" text-anchor="middle" font-weight="normal" fill="#222" class="s">ns</text>
<text x="357" y="302.3" font-size="8.5" text-anchor="middle" font-weight="bold" fill="#111" letter-spacing="0.12">Compliance</text>
<text transform="translate(285,345.5) rotate(-90)" font-size="8.5" letter-spacing="-0.12" text-anchor="middle" fill="#222" class="s">mL/cmH<tspan font-size="5.6" dy="2.2">2</tspan><tspan dy="-2.2">O</tspan></text>
<line x1="309.9" y1="377.3" x2="313.3" y2="377.3" stroke="#111" stroke-width="1.05"/>
<text x="306" y="379.4" font-size="6.3" text-anchor="end" font-weight="normal" fill="#1a1a1a" letter-spacing="0" class="s">0.00</text>
<line x1="309.9" y1="362.05" x2="313.3" y2="362.05" stroke="#111" stroke-width="1.05"/>
<text x="306" y="364.15" font-size="6.3" text-anchor="end" font-weight="normal" fill="#1a1a1a" letter-spacing="0" class="s">0.01</text>
<line x1="309.9" y1="346.8" x2="313.3" y2="346.8" stroke="#111" stroke-width="1.05"/>
<text x="306" y="348.9" font-size="6.3" text-anchor="end" font-weight="normal" fill="#1a1a1a" letter-spacing="0" class="s">0.02</text>
<line x1="309.9" y1="331.55" x2="313.3" y2="331.55" stroke="#111" stroke-width="1.05"/>
<text x="306" y="333.65" font-size="6.3" text-anchor="end" font-weight="normal" fill="#1a1a1a" letter-spacing="0" class="s">0.03</text>
<line x1="309.9" y1="316.3" x2="313.3" y2="316.3" stroke="#111" stroke-width="1.05"/>
<text x="306" y="318.4" font-size="6.3" text-anchor="end" font-weight="normal" fill="#1a1a1a" letter-spacing="0" class="s">0.04</text>
<line x1="324.4" y1="324.5" x2="324.4" y2="326.75" stroke="#111" stroke-width="1"/>
<line x1="321.18" y1="324.5" x2="327.62" y2="324.5" stroke="#111" stroke-width="1.1"/>
<rect x="318.65" y="326.25" width="11.5" height="51.05" fill="#a6012c" />
<line x1="340.9" y1="340" x2="340.9" y2="343.75" stroke="#111" stroke-width="1"/>
<line x1="337.68" y1="340" x2="344.12" y2="340" stroke="#111" stroke-width="1.1"/>
<rect x="335.15" y="343.25" width="11.5" height="34.05" fill="#2e4f7e" />
<line x1="357.4" y1="331.25" x2="357.4" y2="333" stroke="#111" stroke-width="1"/>
<line x1="354.18" y1="331.25" x2="360.62" y2="331.25" stroke="#111" stroke-width="1.1"/>
<rect x="351.65" y="332.5" width="11.5" height="44.8" fill="#66a843" />
<line x1="373.9" y1="340" x2="373.9" y2="341.75" stroke="#111" stroke-width="1"/>
<line x1="370.68" y1="340" x2="377.12" y2="340" stroke="#111" stroke-width="1.1"/>
<rect x="368.15" y="341.25" width="11.5" height="36.05" fill="#54256a" />
<line x1="390.4" y1="340" x2="390.4" y2="344.25" stroke="#111" stroke-width="1"/>
<line x1="387.18" y1="340" x2="393.62" y2="340" stroke="#111" stroke-width="1.1"/>
<rect x="384.65" y="343.75" width="11.5" height="33.55" fill="#d88c18" />
<line x1="313.3" y1="313.3" x2="313.3" y2="378" stroke="#111" stroke-width="1.4"/>
<line x1="312.6" y1="377.3" x2="400" y2="377.3" stroke="#111" stroke-width="1.45"/>
<line x1="324.4" y1="377.3" x2="324.4" y2="380.6" stroke="#111" stroke-width="1.1"/>
<text transform="translate(325.6,385.5) rotate(-45)" font-size="6.35" text-anchor="end" fill="#1a1a1a" class="s">BM Only</text>
<line x1="340.9" y1="377.3" x2="340.9" y2="380.6" stroke="#111" stroke-width="1.1"/>
<text transform="translate(342.1,385.5) rotate(-45)" font-size="6.35" text-anchor="end" fill="#1a1a1a" class="s">cGVHD</text>
<line x1="357.4" y1="377.3" x2="357.4" y2="380.6" stroke="#111" stroke-width="1.1"/>
<text transform="translate(358.6,385.5) rotate(-45)" font-size="6.35" text-anchor="end" fill="#1a1a1a" class="s">wt iNKT</text>
<line x1="373.9" y1="377.3" x2="373.9" y2="380.6" stroke="#111" stroke-width="1.1"/>
<text transform="translate(375.1,385.5) rotate(-45)" font-size="6.35" text-anchor="end" fill="#1a1a1a" class="s">CXCR5<tspan font-size="4" dy="-2">-/-</tspan><tspan dy="2"> iNKT</tspan></text>
<line x1="390.4" y1="377.3" x2="390.4" y2="380.6" stroke="#111" stroke-width="1.1"/>
<text transform="translate(391.6,385.5) rotate(-45)" font-size="6.35" text-anchor="end" fill="#1a1a1a" class="s">IL4<tspan font-size="4" dy="-2">-/-</tspan><tspan dy="2"> iNKT</tspan></text>
<line x1="321.25" y1="323" x2="341.25" y2="323" stroke="#000" stroke-width="1.05"/>
<text x="331.55" y="324.3" font-size="7" text-anchor="middle" font-weight="bold" fill="#111" letter-spacing="0.6">**</text>
<line x1="343.75" y1="323" x2="358.75" y2="323" stroke="#000" stroke-width="1.05"/>
<text x="351.55" y="324.3" font-size="7" text-anchor="middle" font-weight="bold" fill="#111" letter-spacing="0.6">*</text>
<line x1="343.75" y1="318.25" x2="376.25" y2="318.25" stroke="#000" stroke-width="1.05"/>
<text x="360" y="317.05" font-size="6" text-anchor="middle" font-weight="normal" fill="#222" class="s">ns</text>
<line x1="343.75" y1="313" x2="393.75" y2="313" stroke="#000" stroke-width="1.05"/>
<text x="368.75" y="311.8" font-size="6" text-anchor="middle" font-weight="normal" fill="#222" class="s">ns</text>
<text x="94" y="439.5" font-size="8.5" text-anchor="middle" font-weight="bold" fill="#111" letter-spacing="0.12">Resistance</text>
<text transform="translate(26.2,479.6) rotate(-90)" font-size="8.5" letter-spacing="-0.12" text-anchor="middle" fill="#222" class="s">cmH<tspan font-size="5.6" dy="2.2">2</tspan><tspan dy="-2.2">O.s/mL</tspan></text>
<line x1="46.6" y1="510.6" x2="50" y2="510.6" stroke="#111" stroke-width="1.05"/>
<text x="44.8" y="512.7" font-size="6.3" text-anchor="end" font-weight="normal" fill="#1a1a1a" letter-spacing="0.2" class="s">0.0</text>
<line x1="46.6" y1="498.86" x2="50" y2="498.86" stroke="#111" stroke-width="1.05"/>
<text x="44.8" y="500.96" font-size="6.3" text-anchor="end" font-weight="normal" fill="#1a1a1a" letter-spacing="0.2" class="s">0.2</text>
<line x1="46.6" y1="487.12" x2="50" y2="487.12" stroke="#111" stroke-width="1.05"/>
<text x="44.8" y="489.22" font-size="6.3" text-anchor="end" font-weight="normal" fill="#1a1a1a" letter-spacing="0.2" class="s">0.4</text>
<line x1="46.6" y1="475.38" x2="50" y2="475.38" stroke="#111" stroke-width="1.05"/>
<text x="44.8" y="477.48" font-size="6.3" text-anchor="end" font-weight="normal" fill="#1a1a1a" letter-spacing="0.2" class="s">0.6</text>
<line x1="46.6" y1="463.64" x2="50" y2="463.64" stroke="#111" stroke-width="1.05"/>
<text x="44.8" y="465.74" font-size="6.3" text-anchor="end" font-weight="normal" fill="#1a1a1a" letter-spacing="0.2" class="s">0.8</text>
<line x1="46.6" y1="451.9" x2="50" y2="451.9" stroke="#111" stroke-width="1.05"/>
<text x="44.8" y="454" font-size="6.3" text-anchor="end" font-weight="normal" fill="#1a1a1a" letter-spacing="0.2" class="s">1.0</text>
<line x1="60.7" y1="474.6" x2="60.7" y2="477" stroke="#111" stroke-width="1"/>
<line x1="56.5" y1="474.6" x2="64.9" y2="474.6" stroke="#111" stroke-width="1.1"/>
<rect x="53.2" y="476.5" width="15" height="34.1" fill="#a6012c" />
<line x1="82.57" y1="460.2" x2="82.57" y2="463.5" stroke="#111" stroke-width="1"/>
<line x1="78.37" y1="460.2" x2="86.77" y2="460.2" stroke="#111" stroke-width="1.1"/>
<rect x="75.07" y="463" width="15" height="47.6" fill="#2e4f7e" />
<line x1="104.44" y1="476.5" x2="104.44" y2="478.4" stroke="#111" stroke-width="1"/>
<line x1="100.24" y1="476.5" x2="108.64" y2="476.5" stroke="#111" stroke-width="1.1"/>
<rect x="96.94" y="477.9" width="15" height="32.7" fill="#66a843" />
<line x1="126.31" y1="472.7" x2="126.31" y2="474.7" stroke="#111" stroke-width="1"/>
<line x1="122.11" y1="472.7" x2="130.51" y2="472.7" stroke="#111" stroke-width="1.1"/>
<rect x="118.81" y="474.2" width="15" height="36.4" fill="#54256a" />
<line x1="50" y1="448.9" x2="50" y2="511.3" stroke="#111" stroke-width="1.4"/>
<line x1="49.3" y1="510.6" x2="136" y2="510.6" stroke="#111" stroke-width="1.45"/>
<line x1="60.7" y1="510.6" x2="60.7" y2="513.9" stroke="#111" stroke-width="1.1"/>
<text transform="translate(63.9,519.4) rotate(-45)" font-size="6.35" text-anchor="end" fill="#1a1a1a" class="s">BM Only</text>
<line x1="82.57" y1="510.6" x2="82.57" y2="513.9" stroke="#111" stroke-width="1.1"/>
<text transform="translate(85.77,519.4) rotate(-45)" font-size="6.35" text-anchor="end" fill="#1a1a1a" class="s">cGVHD</text>
<line x1="104.44" y1="510.6" x2="104.44" y2="513.9" stroke="#111" stroke-width="1.1"/>
<text transform="translate(107.64,519.4) rotate(-45)" font-size="6.35" text-anchor="end" fill="#1a1a1a" class="s">day 1&amp;14 iNKT</text>
<line x1="126.31" y1="510.6" x2="126.31" y2="513.9" stroke="#111" stroke-width="1.1"/>
<text transform="translate(129.51,519.4) rotate(-45)" font-size="6.35" text-anchor="end" fill="#1a1a1a" class="s">day 28&amp;42 iNKT</text>
<line x1="57.3" y1="458.7" x2="80.4" y2="458.7" stroke="#000" stroke-width="1.05"/>
<text x="69.15" y="460" font-size="7" text-anchor="middle" font-weight="bold" fill="#111" letter-spacing="0.6">**</text>
<line x1="83.3" y1="458.7" x2="103.1" y2="458.7" stroke="#000" stroke-width="1.05"/>
<text x="93.5" y="460" font-size="7" text-anchor="middle" font-weight="bold" fill="#111" letter-spacing="0.6">***</text>
<line x1="82.3" y1="451" x2="124.6" y2="451" stroke="#000" stroke-width="1.05"/>
<text x="103.75" y="452.3" font-size="7" text-anchor="middle" font-weight="bold" fill="#111" letter-spacing="0.6">**</text>
<text x="222.5" y="439.3" font-size="8.5" text-anchor="middle" font-weight="bold" fill="#111" letter-spacing="0.12">Elastance</text>
<text transform="translate(156,480.1) rotate(-90)" font-size="8.5" letter-spacing="-0.12" text-anchor="middle" fill="#222" class="s">cmH<tspan font-size="5.6" dy="2.2">2</tspan><tspan dy="-2.2">O/mL</tspan></text>
<line x1="174.85" y1="510.5" x2="178.25" y2="510.5" stroke="#111" stroke-width="1.05"/>
<text x="172.05" y="512.6" font-size="6.3" text-anchor="end" font-weight="normal" fill="#1a1a1a" letter-spacing="0.2" class="s">0</text>
<line x1="174.85" y1="491" x2="178.25" y2="491" stroke="#111" stroke-width="1.05"/>
<text x="172.05" y="493.1" font-size="6.3" text-anchor="end" font-weight="normal" fill="#1a1a1a" letter-spacing="0.2" class="s">20</text>
<line x1="174.85" y1="471.5" x2="178.25" y2="471.5" stroke="#111" stroke-width="1.05"/>
<text x="172.05" y="473.6" font-size="6.3" text-anchor="end" font-weight="normal" fill="#1a1a1a" letter-spacing="0.2" class="s">40</text>
<line x1="174.85" y1="452" x2="178.25" y2="452" stroke="#111" stroke-width="1.05"/>
<text x="172.05" y="454.1" font-size="6.3" text-anchor="end" font-weight="normal" fill="#1a1a1a" letter-spacing="0.2" class="s">60</text>
<line x1="189.5" y1="480" x2="189.5" y2="482.25" stroke="#111" stroke-width="1"/>
<line x1="185.44" y1="480" x2="193.56" y2="480" stroke="#111" stroke-width="1.1"/>
<rect x="182.25" y="481.75" width="14.5" height="28.75" fill="#a6012c" />
<line x1="211.25" y1="463.25" x2="211.25" y2="467.25" stroke="#111" stroke-width="1"/>
<line x1="207.19" y1="463.25" x2="215.31" y2="463.25" stroke="#111" stroke-width="1.1"/>
<rect x="204" y="466.75" width="14.5" height="43.75" fill="#2e4f7e" />
<line x1="233" y1="480" x2="233" y2="481.25" stroke="#111" stroke-width="1"/>
<line x1="228.94" y1="480" x2="237.06" y2="480" stroke="#111" stroke-width="1.1"/>
<rect x="225.75" y="480.75" width="14.5" height="29.75" fill="#66a843" />
<line x1="254.75" y1="475.5" x2="254.75" y2="478.5" stroke="#111" stroke-width="1"/>
<line x1="250.69" y1="475.5" x2="258.81" y2="475.5" stroke="#111" stroke-width="1.1"/>
<rect x="247.5" y="478" width="14.5" height="32.5" fill="#54256a" />
<line x1="178.25" y1="449" x2="178.25" y2="511.2" stroke="#111" stroke-width="1.4"/>
<line x1="177.55" y1="510.5" x2="266" y2="510.5" stroke="#111" stroke-width="1.45"/>
<line x1="189.5" y1="510.5" x2="189.5" y2="513.8" stroke="#111" stroke-width="1.1"/>
<text transform="translate(192.7,519.3) rotate(-45)" font-size="6.35" text-anchor="end" fill="#1a1a1a" class="s">BM Only</text>
<line x1="211.25" y1="510.5" x2="211.25" y2="513.8" stroke="#111" stroke-width="1.1"/>
<text transform="translate(214.45,519.3) rotate(-45)" font-size="6.35" text-anchor="end" fill="#1a1a1a" class="s">cGVHD</text>
<line x1="233" y1="510.5" x2="233" y2="513.8" stroke="#111" stroke-width="1.1"/>
<text transform="translate(236.2,519.3) rotate(-45)" font-size="6.35" text-anchor="end" fill="#1a1a1a" class="s">day 1&amp;14 iNKT</text>
<line x1="254.75" y1="510.5" x2="254.75" y2="513.8" stroke="#111" stroke-width="1.1"/>
<text transform="translate(257.95,519.3) rotate(-45)" font-size="6.35" text-anchor="end" fill="#1a1a1a" class="s">day 28&amp;42 iNKT</text>
<line x1="186.25" y1="461.25" x2="207.5" y2="461.25" stroke="#000" stroke-width="1.05"/>
<text x="197.18" y="462.55" font-size="7" text-anchor="middle" font-weight="bold" fill="#111" letter-spacing="0.6">**</text>
<line x1="212.5" y1="461.25" x2="232" y2="461.25" stroke="#000" stroke-width="1.05"/>
<text x="222.55" y="462.55" font-size="7" text-anchor="middle" font-weight="bold" fill="#111" letter-spacing="0.6">***</text>
<line x1="211.25" y1="453.75" x2="253.75" y2="453.75" stroke="#000" stroke-width="1.05"/>
<text x="232.8" y="455.05" font-size="7" text-anchor="middle" font-weight="bold" fill="#111" letter-spacing="0.6">**</text>
<text x="357" y="439.3" font-size="8.5" text-anchor="middle" font-weight="bold" fill="#111" letter-spacing="0.12">Compliance</text>
<text transform="translate(284.5,480) rotate(-90)" font-size="8.5" letter-spacing="-0.12" text-anchor="middle" fill="#222" class="s">mL/cmH<tspan font-size="5.6" dy="2.2">2</tspan><tspan dy="-2.2">O</tspan></text>
<line x1="310.85" y1="510.5" x2="314.25" y2="510.5" stroke="#111" stroke-width="1.05"/>
<text x="306.95" y="512.6" font-size="6.3" text-anchor="end" font-weight="normal" fill="#1a1a1a" letter-spacing="0" class="s">0.00</text>
<line x1="310.85" y1="495.81" x2="314.25" y2="495.81" stroke="#111" stroke-width="1.05"/>
<text x="306.95" y="497.91" font-size="6.3" text-anchor="end" font-weight="normal" fill="#1a1a1a" letter-spacing="0" class="s">0.01</text>
<line x1="310.85" y1="481.12" x2="314.25" y2="481.12" stroke="#111" stroke-width="1.05"/>
<text x="306.95" y="483.23" font-size="6.3" text-anchor="end" font-weight="normal" fill="#1a1a1a" letter-spacing="0" class="s">0.02</text>
<line x1="310.85" y1="466.44" x2="314.25" y2="466.44" stroke="#111" stroke-width="1.05"/>
<text x="306.95" y="468.54" font-size="6.3" text-anchor="end" font-weight="normal" fill="#1a1a1a" letter-spacing="0" class="s">0.03</text>
<line x1="310.85" y1="451.75" x2="314.25" y2="451.75" stroke="#111" stroke-width="1.05"/>
<text x="306.95" y="453.85" font-size="6.3" text-anchor="end" font-weight="normal" fill="#1a1a1a" letter-spacing="0" class="s">0.04</text>
<line x1="324.1" y1="459.25" x2="324.1" y2="462.25" stroke="#111" stroke-width="1"/>
<line x1="320.04" y1="459.25" x2="328.16" y2="459.25" stroke="#111" stroke-width="1.1"/>
<rect x="316.85" y="461.75" width="14.5" height="48.75" fill="#a6012c" />
<line x1="345.87" y1="473.75" x2="345.87" y2="477.5" stroke="#111" stroke-width="1"/>
<line x1="341.81" y1="473.75" x2="349.93" y2="473.75" stroke="#111" stroke-width="1.1"/>
<rect x="338.62" y="477" width="14.5" height="33.5" fill="#2e4f7e" />
<line x1="367.64" y1="463" x2="367.64" y2="464.25" stroke="#111" stroke-width="1"/>
<line x1="363.58" y1="463" x2="371.7" y2="463" stroke="#111" stroke-width="1.1"/>
<rect x="360.39" y="463.75" width="14.5" height="46.75" fill="#66a843" />
<line x1="389.41" y1="467.5" x2="389.41" y2="470.5" stroke="#111" stroke-width="1"/>
<line x1="385.35" y1="467.5" x2="393.47" y2="467.5" stroke="#111" stroke-width="1.1"/>
<rect x="382.16" y="470" width="14.5" height="40.5" fill="#54256a" />
<line x1="314.25" y1="448.75" x2="314.25" y2="511.2" stroke="#111" stroke-width="1.4"/>
<line x1="313.55" y1="510.5" x2="400" y2="510.5" stroke="#111" stroke-width="1.45"/>
<line x1="324.1" y1="510.5" x2="324.1" y2="513.8" stroke="#111" stroke-width="1.1"/>
<text transform="translate(327.3,519.3) rotate(-45)" font-size="6.35" text-anchor="end" fill="#1a1a1a" class="s">BM Only</text>
<line x1="345.87" y1="510.5" x2="345.87" y2="513.8" stroke="#111" stroke-width="1.1"/>
<text transform="translate(349.07,519.3) rotate(-45)" font-size="6.35" text-anchor="end" fill="#1a1a1a" class="s">cGVHD</text>
<line x1="367.64" y1="510.5" x2="367.64" y2="513.8" stroke="#111" stroke-width="1.1"/>
<text transform="translate(370.84,519.3) rotate(-45)" font-size="6.35" text-anchor="end" fill="#1a1a1a" class="s">day 1&amp;14 iNKT</text>
<line x1="389.41" y1="510.5" x2="389.41" y2="513.8" stroke="#111" stroke-width="1.1"/>
<text transform="translate(392.61,519.3) rotate(-45)" font-size="6.35" text-anchor="end" fill="#1a1a1a" class="s">day 28&amp;42 iNKT</text>
<line x1="321.25" y1="455.75" x2="342.5" y2="455.75" stroke="#000" stroke-width="1.05"/>
<text x="332.18" y="457.05" font-size="7" text-anchor="middle" font-weight="bold" fill="#111" letter-spacing="0.6">**</text>
<line x1="345.75" y1="455.75" x2="362.5" y2="455.75" stroke="#000" stroke-width="1.05"/>
<text x="354.43" y="457.05" font-size="7" text-anchor="middle" font-weight="bold" fill="#111" letter-spacing="0.6">***</text>
<line x1="345" y1="448.75" x2="389.5" y2="448.75" stroke="#000" stroke-width="1.05"/>
<text x="367.55" y="450.05" font-size="7" text-anchor="middle" font-weight="bold" fill="#111" letter-spacing="0.6">*</text>
<text x="94" y="579.5" font-size="8.5" text-anchor="middle" font-weight="bold" fill="#111" letter-spacing="0.12">Resistance</text>
<text transform="translate(26.1,619.9) rotate(-90)" font-size="8.5" letter-spacing="-0.12" text-anchor="middle" fill="#222" class="s">cmH<tspan font-size="5.6" dy="2.2">2</tspan><tspan dy="-2.2">O.s/mL</tspan></text>
<line x1="46.6" y1="650.4" x2="50" y2="650.4" stroke="#111" stroke-width="1.05"/>
<text x="44.8" y="652.5" font-size="6.3" text-anchor="end" font-weight="normal" fill="#1a1a1a" letter-spacing="0.2" class="s">0.0</text>
<line x1="46.6" y1="638.72" x2="50" y2="638.72" stroke="#111" stroke-width="1.05"/>
<text x="44.8" y="640.82" font-size="6.3" text-anchor="end" font-weight="normal" fill="#1a1a1a" letter-spacing="0.2" class="s">0.2</text>
<line x1="46.6" y1="627.04" x2="50" y2="627.04" stroke="#111" stroke-width="1.05"/>
<text x="44.8" y="629.14" font-size="6.3" text-anchor="end" font-weight="normal" fill="#1a1a1a" letter-spacing="0.2" class="s">0.4</text>
<line x1="46.6" y1="615.36" x2="50" y2="615.36" stroke="#111" stroke-width="1.05"/>
<text x="44.8" y="617.46" font-size="6.3" text-anchor="end" font-weight="normal" fill="#1a1a1a" letter-spacing="0.2" class="s">0.6</text>
<line x1="46.6" y1="603.68" x2="50" y2="603.68" stroke="#111" stroke-width="1.05"/>
<text x="44.8" y="605.78" font-size="6.3" text-anchor="end" font-weight="normal" fill="#1a1a1a" letter-spacing="0.2" class="s">0.8</text>
<line x1="46.6" y1="592" x2="50" y2="592" stroke="#111" stroke-width="1.05"/>
<text x="44.8" y="594.1" font-size="6.3" text-anchor="end" font-weight="normal" fill="#1a1a1a" letter-spacing="0.2" class="s">1.0</text>
<line x1="60.7" y1="614.6" x2="60.7" y2="617" stroke="#111" stroke-width="1"/>
<line x1="56.5" y1="614.6" x2="64.9" y2="614.6" stroke="#111" stroke-width="1.1"/>
<rect x="53.2" y="616.5" width="15" height="33.9" fill="#a6012c" />
<line x1="82.57" y1="600.3" x2="82.57" y2="603.5" stroke="#111" stroke-width="1"/>
<line x1="78.37" y1="600.3" x2="86.77" y2="600.3" stroke="#111" stroke-width="1.1"/>
<rect x="75.07" y="603" width="15" height="47.4" fill="#2e4f7e" />
<line x1="104.44" y1="616" x2="104.44" y2="618.4" stroke="#111" stroke-width="1"/>
<line x1="100.24" y1="616" x2="108.64" y2="616" stroke="#111" stroke-width="1.1"/>
<rect x="96.94" y="617.9" width="15" height="32.5" fill="#66a843" />
<line x1="126.31" y1="608.7" x2="126.31" y2="611.6" stroke="#111" stroke-width="1"/>
<line x1="122.11" y1="608.7" x2="130.51" y2="608.7" stroke="#111" stroke-width="1.1"/>
<rect x="118.81" y="611.1" width="15" height="39.3" fill="#54256a" />
<line x1="50" y1="589" x2="50" y2="651.1" stroke="#111" stroke-width="1.4"/>
<line x1="49.3" y1="650.4" x2="136" y2="650.4" stroke="#111" stroke-width="1.45"/>
<line x1="60.7" y1="650.4" x2="60.7" y2="653.7" stroke="#111" stroke-width="1.1"/>
<text transform="translate(63.9,659.2) rotate(-45)" font-size="6.35" text-anchor="end" fill="#1a1a1a" class="s">BM Only</text>
<line x1="82.57" y1="650.4" x2="82.57" y2="653.7" stroke="#111" stroke-width="1.1"/>
<text transform="translate(85.77,659.2) rotate(-45)" font-size="6.35" text-anchor="end" fill="#1a1a1a" class="s">cGVHD</text>
<line x1="104.44" y1="650.4" x2="104.44" y2="653.7" stroke="#111" stroke-width="1.1"/>
<text transform="translate(107.64,659.2) rotate(-45)" font-size="6.35" text-anchor="end" fill="#1a1a1a" class="s">day 1&amp;14 RGI2001</text>
<line x1="126.31" y1="650.4" x2="126.31" y2="653.7" stroke="#111" stroke-width="1.1"/>
<text transform="translate(129.51,659.2) rotate(-45)" font-size="6.35" text-anchor="end" fill="#1a1a1a" class="s">day 28&amp;42 RGI2001</text>
<line x1="57.9" y1="599" x2="80" y2="599" stroke="#000" stroke-width="1.05"/>
<text x="69.25" y="600.3" font-size="7" text-anchor="middle" font-weight="bold" fill="#111" letter-spacing="0.6">**</text>
<line x1="82.1" y1="599" x2="103.1" y2="599" stroke="#000" stroke-width="1.05"/>
<text x="92.9" y="600.3" font-size="7" text-anchor="middle" font-weight="bold" fill="#111" letter-spacing="0.6">***</text>
<line x1="105.8" y1="599" x2="125.2" y2="599" stroke="#000" stroke-width="1.05"/>
<text x="115.8" y="600.3" font-size="7" text-anchor="middle" font-weight="bold" fill="#111" letter-spacing="0.6">*</text>
<line x1="80.8" y1="592.3" x2="125.2" y2="592.3" stroke="#000" stroke-width="1.05"/>
<text x="103.3" y="593.6" font-size="7" text-anchor="middle" font-weight="bold" fill="#111" letter-spacing="0.6">*</text>
<text x="222.5" y="579.3" font-size="8.5" text-anchor="middle" font-weight="bold" fill="#111" letter-spacing="0.12">Elastance</text>
<text transform="translate(156,620) rotate(-90)" font-size="8.5" letter-spacing="-0.12" text-anchor="middle" fill="#222" class="s">cmH<tspan font-size="5.6" dy="2.2">2</tspan><tspan dy="-2.2">O/mL</tspan></text>
<line x1="174.85" y1="650.5" x2="178.25" y2="650.5" stroke="#111" stroke-width="1.05"/>
<text x="172.05" y="652.6" font-size="6.3" text-anchor="end" font-weight="normal" fill="#1a1a1a" letter-spacing="0.2" class="s">0</text>
<line x1="174.85" y1="630.92" x2="178.25" y2="630.92" stroke="#111" stroke-width="1.05"/>
<text x="172.05" y="633.02" font-size="6.3" text-anchor="end" font-weight="normal" fill="#1a1a1a" letter-spacing="0.2" class="s">20</text>
<line x1="174.85" y1="611.33" x2="178.25" y2="611.33" stroke="#111" stroke-width="1.05"/>
<text x="172.05" y="613.43" font-size="6.3" text-anchor="end" font-weight="normal" fill="#1a1a1a" letter-spacing="0.2" class="s">40</text>
<line x1="174.85" y1="591.75" x2="178.25" y2="591.75" stroke="#111" stroke-width="1.05"/>
<text x="172.05" y="593.85" font-size="6.3" text-anchor="end" font-weight="normal" fill="#1a1a1a" letter-spacing="0.2" class="s">60</text>
<line x1="189.5" y1="620" x2="189.5" y2="622.25" stroke="#111" stroke-width="1"/>
<line x1="185.44" y1="620" x2="193.56" y2="620" stroke="#111" stroke-width="1.1"/>
<rect x="182.25" y="621.75" width="14.5" height="28.75" fill="#a6012c" />
<line x1="211.25" y1="603.25" x2="211.25" y2="607.25" stroke="#111" stroke-width="1"/>
<line x1="207.19" y1="603.25" x2="215.31" y2="603.25" stroke="#111" stroke-width="1.1"/>
<rect x="204" y="606.75" width="14.5" height="43.75" fill="#2e4f7e" />
<line x1="233" y1="621.25" x2="233" y2="623" stroke="#111" stroke-width="1"/>
<line x1="228.94" y1="621.25" x2="237.06" y2="621.25" stroke="#111" stroke-width="1.1"/>
<rect x="225.75" y="622.5" width="14.5" height="28" fill="#66a843" />
<line x1="254.75" y1="613" x2="254.75" y2="616" stroke="#111" stroke-width="1"/>
<line x1="250.69" y1="613" x2="258.81" y2="613" stroke="#111" stroke-width="1.1"/>
<rect x="247.5" y="615.5" width="14.5" height="35" fill="#54256a" />
<line x1="178.25" y1="588.75" x2="178.25" y2="651.2" stroke="#111" stroke-width="1.4"/>
<line x1="177.55" y1="650.5" x2="266" y2="650.5" stroke="#111" stroke-width="1.45"/>
<line x1="189.5" y1="650.5" x2="189.5" y2="653.8" stroke="#111" stroke-width="1.1"/>
<text transform="translate(192.7,659.3) rotate(-45)" font-size="6.35" text-anchor="end" fill="#1a1a1a" class="s">BM Only</text>
<line x1="211.25" y1="650.5" x2="211.25" y2="653.8" stroke="#111" stroke-width="1.1"/>
<text transform="translate(214.45,659.3) rotate(-45)" font-size="6.35" text-anchor="end" fill="#1a1a1a" class="s">cGVHD</text>
<line x1="233" y1="650.5" x2="233" y2="653.8" stroke="#111" stroke-width="1.1"/>
<text transform="translate(236.2,659.3) rotate(-45)" font-size="6.35" text-anchor="end" fill="#1a1a1a" class="s">day 1&amp;14 RGI2001</text>
<line x1="254.75" y1="650.5" x2="254.75" y2="653.8" stroke="#111" stroke-width="1.1"/>
<text transform="translate(257.95,659.3) rotate(-45)" font-size="6.35" text-anchor="end" fill="#1a1a1a" class="s">day 28&amp;42 RGI2001</text>
<line x1="186.25" y1="600.5" x2="207.5" y2="600.5" stroke="#000" stroke-width="1.05"/>
<text x="197.18" y="601.8" font-size="7" text-anchor="middle" font-weight="bold" fill="#111" letter-spacing="0.6">**</text>
<line x1="212.5" y1="600.5" x2="232" y2="600.5" stroke="#000" stroke-width="1.05"/>
<text x="222.55" y="601.8" font-size="7" text-anchor="middle" font-weight="bold" fill="#111" letter-spacing="0.6">***</text>
<line x1="234.5" y1="600.5" x2="254.5" y2="600.5" stroke="#000" stroke-width="1.05"/>
<text x="244.8" y="601.8" font-size="7" text-anchor="middle" font-weight="bold" fill="#111" letter-spacing="0.6">**</text>
<line x1="211.25" y1="593.25" x2="253.75" y2="593.25" stroke="#000" stroke-width="1.05"/>
<text x="232.8" y="594.55" font-size="7" text-anchor="middle" font-weight="bold" fill="#111" letter-spacing="0.6">*</text>
<text x="357" y="579.3" font-size="8.5" text-anchor="middle" font-weight="bold" fill="#111" letter-spacing="0.12">Compliance</text>
<text transform="translate(284.5,620) rotate(-90)" font-size="8.5" letter-spacing="-0.12" text-anchor="middle" fill="#222" class="s">mL/cmH<tspan font-size="5.6" dy="2.2">2</tspan><tspan dy="-2.2">O</tspan></text>
<line x1="310.85" y1="650.5" x2="314.25" y2="650.5" stroke="#111" stroke-width="1.05"/>
<text x="306.95" y="652.6" font-size="6.3" text-anchor="end" font-weight="normal" fill="#1a1a1a" letter-spacing="0" class="s">0.00</text>
<line x1="310.85" y1="635.81" x2="314.25" y2="635.81" stroke="#111" stroke-width="1.05"/>
<text x="306.95" y="637.91" font-size="6.3" text-anchor="end" font-weight="normal" fill="#1a1a1a" letter-spacing="0" class="s">0.01</text>
<line x1="310.85" y1="621.12" x2="314.25" y2="621.12" stroke="#111" stroke-width="1.05"/>
<text x="306.95" y="623.23" font-size="6.3" text-anchor="end" font-weight="normal" fill="#1a1a1a" letter-spacing="0" class="s">0.02</text>
<line x1="310.85" y1="606.44" x2="314.25" y2="606.44" stroke="#111" stroke-width="1.05"/>
<text x="306.95" y="608.54" font-size="6.3" text-anchor="end" font-weight="normal" fill="#1a1a1a" letter-spacing="0" class="s">0.03</text>
<line x1="310.85" y1="591.75" x2="314.25" y2="591.75" stroke="#111" stroke-width="1.05"/>
<text x="306.95" y="593.85" font-size="6.3" text-anchor="end" font-weight="normal" fill="#1a1a1a" letter-spacing="0" class="s">0.04</text>
<line x1="324.1" y1="599.25" x2="324.1" y2="602.25" stroke="#111" stroke-width="1"/>
<line x1="320.04" y1="599.25" x2="328.16" y2="599.25" stroke="#111" stroke-width="1.1"/>
<rect x="316.85" y="601.75" width="14.5" height="48.75" fill="#a6012c" />
<line x1="345.87" y1="613.75" x2="345.87" y2="617.5" stroke="#111" stroke-width="1"/>
<line x1="341.81" y1="613.75" x2="349.93" y2="613.75" stroke="#111" stroke-width="1.1"/>
<rect x="338.62" y="617" width="14.5" height="33.5" fill="#2e4f7e" />
<line x1="367.64" y1="597.5" x2="367.64" y2="600" stroke="#111" stroke-width="1"/>
<line x1="363.58" y1="597.5" x2="371.7" y2="597.5" stroke="#111" stroke-width="1.1"/>
<rect x="360.39" y="599.5" width="14.5" height="51" fill="#66a843" />
<line x1="389.41" y1="607" x2="389.41" y2="610.5" stroke="#111" stroke-width="1"/>
<line x1="385.35" y1="607" x2="393.47" y2="607" stroke="#111" stroke-width="1.1"/>
<rect x="382.16" y="610" width="14.5" height="40.5" fill="#54256a" />
<line x1="314.25" y1="588.75" x2="314.25" y2="651.2" stroke="#111" stroke-width="1.4"/>
<line x1="313.55" y1="650.5" x2="400" y2="650.5" stroke="#111" stroke-width="1.45"/>
<line x1="324.1" y1="650.5" x2="324.1" y2="653.8" stroke="#111" stroke-width="1.1"/>
<text transform="translate(327.3,659.3) rotate(-45)" font-size="6.35" text-anchor="end" fill="#1a1a1a" class="s">BM Only</text>
<line x1="345.87" y1="650.5" x2="345.87" y2="653.8" stroke="#111" stroke-width="1.1"/>
<text transform="translate(349.07,659.3) rotate(-45)" font-size="6.35" text-anchor="end" fill="#1a1a1a" class="s">cGVHD</text>
<line x1="367.64" y1="650.5" x2="367.64" y2="653.8" stroke="#111" stroke-width="1.1"/>
<text transform="translate(370.84,659.3) rotate(-45)" font-size="6.35" text-anchor="end" fill="#1a1a1a" class="s">day 1&amp;14 RGI2001</text>
<line x1="389.41" y1="650.5" x2="389.41" y2="653.8" stroke="#111" stroke-width="1.1"/>
<text transform="translate(392.61,659.3) rotate(-45)" font-size="6.35" text-anchor="end" fill="#1a1a1a" class="s">day 28&amp;42 RGI2001</text>
<line x1="321.25" y1="595.75" x2="342.5" y2="595.75" stroke="#000" stroke-width="1.05"/>
<text x="332.18" y="597.05" font-size="7" text-anchor="middle" font-weight="bold" fill="#111" letter-spacing="0.6">**</text>
<line x1="345.75" y1="595.75" x2="362.5" y2="595.75" stroke="#000" stroke-width="1.05"/>
<text x="354.43" y="597.05" font-size="7" text-anchor="middle" font-weight="bold" fill="#111" letter-spacing="0.6">***</text>
<line x1="368.75" y1="595.75" x2="388.75" y2="595.75" stroke="#000" stroke-width="1.05"/>
<text x="379.05" y="597.05" font-size="7" text-anchor="middle" font-weight="bold" fill="#111" letter-spacing="0.6">**</text>
<line x1="345" y1="589.25" x2="389.5" y2="589.25" stroke="#000" stroke-width="1.05"/>
<text x="367.25" y="587.75" font-size="5.6" text-anchor="middle" font-weight="normal" fill="#222" class="s" letter-spacing="0.1">0.0735</text>
<filter id="fD1" x="0" y="0" width="100%" height="100%" color-interpolation-filters="sRGB">
<feFlood flood-color="#2a2280" result="base"/>
<feTurbulence type="fractalNoise" baseFrequency="0.38" numOctaves="2" seed="7" result="n"/>
<feColorMatrix in="n" type="matrix" values="0 0 0 0 0.26  0 0 0 0 0.22  0 0 0 0 0.72  0 0 4 0 -2.05" result="light"/>
<feColorMatrix in="n" type="matrix" values="0 0 0 0 0.06  0 0 0 0 0.05  0 0 0 0 0.2  0 4 0 0 -2.1" result="dark"/>
<feColorMatrix in="n" type="matrix" values="0 0 0 0 0.5  0 0 0 0 0.12  0 0 0 0 0.4  4.5 0 0 0 -2.8" result="red"/>
<feMerge result="m"><feMergeNode in="base"/><feMergeNode in="light"/><feMergeNode in="dark"/><feMergeNode in="red"/></feMerge>
<feGaussianBlur in="m" stdDeviation="0.3"/>
</filter>
<filter id="fD2" x="0" y="0" width="100%" height="100%" color-interpolation-filters="sRGB">
<feFlood flood-color="#3e30b0" result="base"/>
<feTurbulence type="fractalNoise" baseFrequency="0.26" numOctaves="2" seed="11" result="n"/>
<feColorMatrix in="n" type="matrix" values="0 0 0 0 0.3  0 0 0 0 0.25  0 0 0 0 0.82  0 0 4 0 -1.9" result="light"/>
<feColorMatrix in="n" type="matrix" values="0 0 0 0 0.06  0 0 0 0 0.03  0 0 0 0 0.12  0 4 0 0 -2.35" result="dark"/>
<feColorMatrix in="n" type="matrix" values="0 0 0 0 0.6  0 0 0 0 0.08  0 0 0 0 0.3  4 0 0 0 -2.12" result="red"/>
<feMerge result="m"><feMergeNode in="base"/><feMergeNode in="light"/><feMergeNode in="red"/><feMergeNode in="dark"/></feMerge>
<feGaussianBlur in="m" stdDeviation="0.4"/>
</filter>
<clipPath id="clipD1"><rect x="428.2" y="181.2" width="84.2" height="81"/></clipPath>
<g clip-path="url(#clipD1)">
<rect x="428.2" y="181.2" width="84.2" height="81" filter="url(#fD1)"/>
<ellipse cx="439" cy="217" rx="14" ry="9" fill="#08061c" fill-opacity="0.9" filter="url(#blur1)"/>
<ellipse cx="500" cy="190" rx="10" ry="7" fill="#803060" fill-opacity="0.18" filter="url(#blur1)"/>
<polygon points="428.2,262.2 463.5,232 486.5,232 512.4,262.2" fill="#0a0822" fill-opacity="0.65"/>
</g>
<rect x="463.7" y="210.6" width="22.6" height="21.4" fill="none" stroke="#fff" stroke-width="1.2"/>
<line x1="463.5" y1="232" x2="428.8" y2="262.2" stroke="#fff" stroke-width="1.3"/>
<line x1="486.5" y1="232" x2="512" y2="262.2" stroke="#fff" stroke-width="1.3"/>
<text x="446.3" y="259.4" font-size="8.3" text-anchor="start" font-weight="normal" fill="#80cc5e" stroke="#80cc5e" stroke-width="0.25">CD45.1</text>
<text x="479.8" y="259.4" font-size="7.6" text-anchor="start" font-weight="bold" fill="#d01c40" >RNA</text>
<clipPath id="clipD2"><rect x="428.2" y="264" width="84" height="80.8"/></clipPath>
<g clip-path="url(#clipD2)">
<rect x="428.2" y="264" width="84" height="80.8" filter="url(#fD2)"/>
<circle cx="450.0" cy="319.4" r="0.94" fill="#30c0c0" fill-opacity="0.90"/>
<circle cx="484.2" cy="334.2" r="0.92" fill="#30c0c0" fill-opacity="0.74"/>
<circle cx="472.8" cy="281.3" r="0.75" fill="#40c060" fill-opacity="0.74"/>
<circle cx="485.7" cy="344.6" r="1.10" fill="#30c0c0" fill-opacity="0.73"/>
<circle cx="494.9" cy="335.8" r="0.73" fill="#40c060" fill-opacity="0.92"/>
<circle cx="507.9" cy="328.1" r="0.73" fill="#30c0c0" fill-opacity="0.85"/>
<circle cx="491.6" cy="309.6" r="0.81" fill="#40c060" fill-opacity="0.97"/>
<circle cx="481.8" cy="316.9" r="0.77" fill="#2090d0" fill-opacity="0.94"/>
<circle cx="511.0" cy="319.8" r="0.88" fill="#2090d0" fill-opacity="1.00"/>
<circle cx="465.2" cy="322.9" r="0.87" fill="#40c060" fill-opacity="0.76"/>
<circle cx="472.1" cy="284.5" r="0.83" fill="#2090d0" fill-opacity="0.78"/>
<circle cx="502.9" cy="310.6" r="0.88" fill="#2090d0" fill-opacity="0.77"/>
<circle cx="444.5" cy="293.6" r="0.64" fill="#2090d0" fill-opacity="0.89"/>
<circle cx="467.1" cy="264.2" r="0.81" fill="#30c0c0" fill-opacity="0.77"/>
<circle cx="470.0" cy="320.4" r="0.82" fill="#40c060" fill-opacity="0.75"/>
<circle cx="462.9" cy="334.2" r="1.04" fill="#40c060" fill-opacity="0.76"/>
<ellipse cx="490" cy="313" rx="4.5" ry="4" fill="#c01830" fill-opacity="0.6" filter="url(#blur05)"/>
<ellipse cx="493" cy="317" rx="4" ry="3.5" fill="#c01830" fill-opacity="0.6" filter="url(#blur05)"/>
<ellipse cx="487" cy="317" rx="3" ry="3" fill="#c01830" fill-opacity="0.6" filter="url(#blur05)"/>
<ellipse cx="494" cy="310" rx="3" ry="2.5" fill="#c01830" fill-opacity="0.6" filter="url(#blur05)"/>
<ellipse cx="446" cy="320" rx="4" ry="3" fill="#c01830" fill-opacity="0.6" filter="url(#blur05)"/>
<ellipse cx="440" cy="330" rx="3.5" ry="3" fill="#c01830" fill-opacity="0.6" filter="url(#blur05)"/>
<ellipse cx="452" cy="334" rx="3" ry="2.5" fill="#c01830" fill-opacity="0.6" filter="url(#blur05)"/>
<ellipse cx="436" cy="300" rx="3" ry="2.5" fill="#c01830" fill-opacity="0.6" filter="url(#blur05)"/>
</g>
<g transform="translate(464.5,299.5) rotate(-45)"><polygon points="0,0 -3.4,-5.2 -1.1,-4.5 -1.1,-11.5 1.1,-11.5 1.1,-4.5 3.4,-5.2" fill="#fff"/></g>
<g transform="translate(493.5,300.5) rotate(-45)"><polygon points="0,0 -3.4,-5.2 -1.1,-4.5 -1.1,-11.5 1.1,-11.5 1.1,-4.5 3.4,-5.2" fill="#fff"/></g>
<rect x="0.5" y="0.5" width="519" height="708" fill="none" stroke="#000" stroke-width="1.2"/>
</svg>
</body></html>
